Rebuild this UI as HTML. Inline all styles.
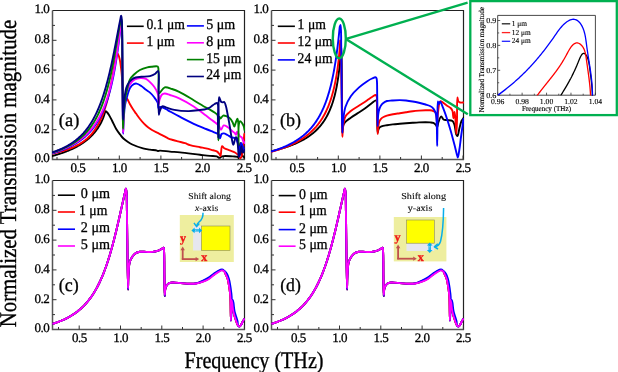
<!DOCTYPE html><html><head><meta charset="utf-8"><style>html,body{margin:0;padding:0;background:#fff;overflow:hidden;}svg{display:block;will-change:transform;}text{font-family:"Liberation Serif", serif;text-rendering:geometricPrecision;}</style></head><body>
<svg width="618" height="372" viewBox="0 0 618 372">
<rect width="618" height="372" fill="#fff"/>
<defs>
<clipPath id="clipa"><rect x="52.0" y="7.5" width="193.0" height="152.5"/></clipPath>
<clipPath id="clipb"><rect x="271.0" y="7.5" width="193.0" height="152.5"/></clipPath>
<clipPath id="clipc"><rect x="52.0" y="177.5" width="193.0" height="152.5"/></clipPath>
<clipPath id="clipd"><rect x="271.0" y="177.5" width="193.0" height="152.5"/></clipPath>
<clipPath id="clipi"><rect x="497.7" y="14" width="98" height="81.6"/></clipPath>
</defs>
<path d="M52.5 10.5 H244.5 V159.5" fill="none" stroke="#222" stroke-width="1.2"/>
<path d="M52.5 10.5 V159.5 H245.1" fill="none" stroke="#555" stroke-width="1.5"/>
<line x1="57.00" y1="159.50" x2="57.00" y2="157.00" stroke="#333" stroke-width="1"/>
<line x1="77.80" y1="159.50" x2="77.80" y2="155.50" stroke="#333" stroke-width="1"/>
<line x1="98.60" y1="159.50" x2="98.60" y2="157.00" stroke="#333" stroke-width="1"/>
<line x1="119.30" y1="159.50" x2="119.30" y2="155.50" stroke="#333" stroke-width="1"/>
<line x1="140.10" y1="159.50" x2="140.10" y2="157.00" stroke="#333" stroke-width="1"/>
<line x1="160.90" y1="159.50" x2="160.90" y2="155.50" stroke="#333" stroke-width="1"/>
<line x1="181.60" y1="159.50" x2="181.60" y2="157.00" stroke="#333" stroke-width="1"/>
<line x1="202.40" y1="159.50" x2="202.40" y2="155.50" stroke="#333" stroke-width="1"/>
<line x1="223.20" y1="159.50" x2="223.20" y2="157.00" stroke="#333" stroke-width="1"/>
<line x1="244.00" y1="159.50" x2="244.00" y2="155.50" stroke="#333" stroke-width="1"/>
<line x1="52.50" y1="144.60" x2="55.00" y2="144.60" stroke="#333" stroke-width="1"/>
<line x1="52.50" y1="129.70" x2="56.50" y2="129.70" stroke="#333" stroke-width="1"/>
<line x1="52.50" y1="114.80" x2="55.00" y2="114.80" stroke="#333" stroke-width="1"/>
<line x1="52.50" y1="99.90" x2="56.50" y2="99.90" stroke="#333" stroke-width="1"/>
<line x1="52.50" y1="85.00" x2="55.00" y2="85.00" stroke="#333" stroke-width="1"/>
<line x1="52.50" y1="70.10" x2="56.50" y2="70.10" stroke="#333" stroke-width="1"/>
<line x1="52.50" y1="55.20" x2="55.00" y2="55.20" stroke="#333" stroke-width="1"/>
<line x1="52.50" y1="40.30" x2="56.50" y2="40.30" stroke="#333" stroke-width="1"/>
<line x1="52.50" y1="25.40" x2="55.00" y2="25.40" stroke="#333" stroke-width="1"/>
<text x="34.55" y="162.30" font-size="13.00" text-anchor="start" fill="#000" stroke="#000" stroke-width="0.30" letter-spacing="-0.5">0.0</text>
<text x="34.55" y="132.50" font-size="13.00" text-anchor="start" fill="#000" stroke="#000" stroke-width="0.30" letter-spacing="-0.5">0.2</text>
<text x="34.55" y="102.70" font-size="13.00" text-anchor="start" fill="#000" stroke="#000" stroke-width="0.30" letter-spacing="-0.5">0.4</text>
<text x="34.55" y="72.90" font-size="13.00" text-anchor="start" fill="#000" stroke="#000" stroke-width="0.30" letter-spacing="-0.5">0.6</text>
<text x="34.55" y="43.10" font-size="13.00" text-anchor="start" fill="#000" stroke="#000" stroke-width="0.30" letter-spacing="-0.5">0.8</text>
<text x="34.55" y="13.30" font-size="13.00" text-anchor="start" fill="#000" stroke="#000" stroke-width="0.30" letter-spacing="-0.5">1.0</text>
<text x="70.50" y="172.00" font-size="13.00" text-anchor="start" fill="#000" stroke="#000" stroke-width="0.30" letter-spacing="-0.5">0.5</text>
<text x="112.00" y="172.00" font-size="13.00" text-anchor="start" fill="#000" stroke="#000" stroke-width="0.30" letter-spacing="-0.5">1.0</text>
<text x="153.60" y="172.00" font-size="13.00" text-anchor="start" fill="#000" stroke="#000" stroke-width="0.30" letter-spacing="-0.5">1.5</text>
<text x="195.10" y="172.00" font-size="13.00" text-anchor="start" fill="#000" stroke="#000" stroke-width="0.30" letter-spacing="-0.5">2.0</text>
<text x="236.70" y="172.00" font-size="13.00" text-anchor="start" fill="#000" stroke="#000" stroke-width="0.30" letter-spacing="-0.5">2.5</text>
<path d="M271.5 10.5 H463.5 V159.5" fill="none" stroke="#222" stroke-width="1.2"/>
<path d="M271.5 10.5 V159.5 H464.1" fill="none" stroke="#555" stroke-width="1.5"/>
<line x1="276.00" y1="159.50" x2="276.00" y2="157.00" stroke="#333" stroke-width="1"/>
<line x1="296.80" y1="159.50" x2="296.80" y2="155.50" stroke="#333" stroke-width="1"/>
<line x1="317.60" y1="159.50" x2="317.60" y2="157.00" stroke="#333" stroke-width="1"/>
<line x1="338.30" y1="159.50" x2="338.30" y2="155.50" stroke="#333" stroke-width="1"/>
<line x1="359.10" y1="159.50" x2="359.10" y2="157.00" stroke="#333" stroke-width="1"/>
<line x1="379.90" y1="159.50" x2="379.90" y2="155.50" stroke="#333" stroke-width="1"/>
<line x1="400.60" y1="159.50" x2="400.60" y2="157.00" stroke="#333" stroke-width="1"/>
<line x1="421.40" y1="159.50" x2="421.40" y2="155.50" stroke="#333" stroke-width="1"/>
<line x1="442.20" y1="159.50" x2="442.20" y2="157.00" stroke="#333" stroke-width="1"/>
<line x1="463.00" y1="159.50" x2="463.00" y2="155.50" stroke="#333" stroke-width="1"/>
<line x1="271.50" y1="144.60" x2="274.00" y2="144.60" stroke="#333" stroke-width="1"/>
<line x1="271.50" y1="129.70" x2="275.50" y2="129.70" stroke="#333" stroke-width="1"/>
<line x1="271.50" y1="114.80" x2="274.00" y2="114.80" stroke="#333" stroke-width="1"/>
<line x1="271.50" y1="99.90" x2="275.50" y2="99.90" stroke="#333" stroke-width="1"/>
<line x1="271.50" y1="85.00" x2="274.00" y2="85.00" stroke="#333" stroke-width="1"/>
<line x1="271.50" y1="70.10" x2="275.50" y2="70.10" stroke="#333" stroke-width="1"/>
<line x1="271.50" y1="55.20" x2="274.00" y2="55.20" stroke="#333" stroke-width="1"/>
<line x1="271.50" y1="40.30" x2="275.50" y2="40.30" stroke="#333" stroke-width="1"/>
<line x1="271.50" y1="25.40" x2="274.00" y2="25.40" stroke="#333" stroke-width="1"/>
<text x="253.55" y="162.30" font-size="13.00" text-anchor="start" fill="#000" stroke="#000" stroke-width="0.30" letter-spacing="-0.5">0.0</text>
<text x="253.55" y="132.50" font-size="13.00" text-anchor="start" fill="#000" stroke="#000" stroke-width="0.30" letter-spacing="-0.5">0.2</text>
<text x="253.55" y="102.70" font-size="13.00" text-anchor="start" fill="#000" stroke="#000" stroke-width="0.30" letter-spacing="-0.5">0.4</text>
<text x="253.55" y="72.90" font-size="13.00" text-anchor="start" fill="#000" stroke="#000" stroke-width="0.30" letter-spacing="-0.5">0.6</text>
<text x="253.55" y="43.10" font-size="13.00" text-anchor="start" fill="#000" stroke="#000" stroke-width="0.30" letter-spacing="-0.5">0.8</text>
<text x="253.55" y="13.30" font-size="13.00" text-anchor="start" fill="#000" stroke="#000" stroke-width="0.30" letter-spacing="-0.5">1.0</text>
<text x="289.50" y="172.00" font-size="13.00" text-anchor="start" fill="#000" stroke="#000" stroke-width="0.30" letter-spacing="-0.5">0.5</text>
<text x="331.00" y="172.00" font-size="13.00" text-anchor="start" fill="#000" stroke="#000" stroke-width="0.30" letter-spacing="-0.5">1.0</text>
<text x="372.60" y="172.00" font-size="13.00" text-anchor="start" fill="#000" stroke="#000" stroke-width="0.30" letter-spacing="-0.5">1.5</text>
<text x="414.10" y="172.00" font-size="13.00" text-anchor="start" fill="#000" stroke="#000" stroke-width="0.30" letter-spacing="-0.5">2.0</text>
<text x="455.70" y="172.00" font-size="13.00" text-anchor="start" fill="#000" stroke="#000" stroke-width="0.30" letter-spacing="-0.5">2.5</text>
<path d="M52.5 180.5 H244.5 V329.5" fill="none" stroke="#222" stroke-width="1.2"/>
<path d="M52.5 180.5 V329.5 H245.1" fill="none" stroke="#555" stroke-width="1.5"/>
<line x1="58.50" y1="329.50" x2="58.50" y2="327.00" stroke="#333" stroke-width="1"/>
<line x1="79.20" y1="329.50" x2="79.20" y2="325.50" stroke="#333" stroke-width="1"/>
<line x1="99.85" y1="329.50" x2="99.85" y2="327.00" stroke="#333" stroke-width="1"/>
<line x1="120.50" y1="329.50" x2="120.50" y2="325.50" stroke="#333" stroke-width="1"/>
<line x1="141.20" y1="329.50" x2="141.20" y2="327.00" stroke="#333" stroke-width="1"/>
<line x1="161.80" y1="329.50" x2="161.80" y2="325.50" stroke="#333" stroke-width="1"/>
<line x1="182.50" y1="329.50" x2="182.50" y2="327.00" stroke="#333" stroke-width="1"/>
<line x1="203.10" y1="329.50" x2="203.10" y2="325.50" stroke="#333" stroke-width="1"/>
<line x1="223.80" y1="329.50" x2="223.80" y2="327.00" stroke="#333" stroke-width="1"/>
<line x1="244.40" y1="329.50" x2="244.40" y2="325.50" stroke="#333" stroke-width="1"/>
<line x1="52.50" y1="314.60" x2="55.00" y2="314.60" stroke="#333" stroke-width="1"/>
<line x1="52.50" y1="299.70" x2="56.50" y2="299.70" stroke="#333" stroke-width="1"/>
<line x1="52.50" y1="284.80" x2="55.00" y2="284.80" stroke="#333" stroke-width="1"/>
<line x1="52.50" y1="269.90" x2="56.50" y2="269.90" stroke="#333" stroke-width="1"/>
<line x1="52.50" y1="255.00" x2="55.00" y2="255.00" stroke="#333" stroke-width="1"/>
<line x1="52.50" y1="240.10" x2="56.50" y2="240.10" stroke="#333" stroke-width="1"/>
<line x1="52.50" y1="225.20" x2="55.00" y2="225.20" stroke="#333" stroke-width="1"/>
<line x1="52.50" y1="210.30" x2="56.50" y2="210.30" stroke="#333" stroke-width="1"/>
<line x1="52.50" y1="195.40" x2="55.00" y2="195.40" stroke="#333" stroke-width="1"/>
<text x="34.55" y="332.30" font-size="13.00" text-anchor="start" fill="#000" stroke="#000" stroke-width="0.30" letter-spacing="-0.5">0.0</text>
<text x="34.55" y="302.50" font-size="13.00" text-anchor="start" fill="#000" stroke="#000" stroke-width="0.30" letter-spacing="-0.5">0.2</text>
<text x="34.55" y="272.70" font-size="13.00" text-anchor="start" fill="#000" stroke="#000" stroke-width="0.30" letter-spacing="-0.5">0.4</text>
<text x="34.55" y="242.90" font-size="13.00" text-anchor="start" fill="#000" stroke="#000" stroke-width="0.30" letter-spacing="-0.5">0.6</text>
<text x="34.55" y="213.10" font-size="13.00" text-anchor="start" fill="#000" stroke="#000" stroke-width="0.30" letter-spacing="-0.5">0.8</text>
<text x="34.55" y="183.30" font-size="13.00" text-anchor="start" fill="#000" stroke="#000" stroke-width="0.30" letter-spacing="-0.5">1.0</text>
<text x="71.90" y="342.00" font-size="13.00" text-anchor="start" fill="#000" stroke="#000" stroke-width="0.30" letter-spacing="-0.5">0.5</text>
<text x="113.20" y="342.00" font-size="13.00" text-anchor="start" fill="#000" stroke="#000" stroke-width="0.30" letter-spacing="-0.5">1.0</text>
<text x="154.50" y="342.00" font-size="13.00" text-anchor="start" fill="#000" stroke="#000" stroke-width="0.30" letter-spacing="-0.5">1.5</text>
<text x="195.80" y="342.00" font-size="13.00" text-anchor="start" fill="#000" stroke="#000" stroke-width="0.30" letter-spacing="-0.5">2.0</text>
<text x="237.10" y="342.00" font-size="13.00" text-anchor="start" fill="#000" stroke="#000" stroke-width="0.30" letter-spacing="-0.5">2.5</text>
<path d="M271.5 180.5 H463.5 V329.5" fill="none" stroke="#222" stroke-width="1.2"/>
<path d="M271.5 180.5 V329.5 H464.1" fill="none" stroke="#555" stroke-width="1.5"/>
<line x1="277.50" y1="329.50" x2="277.50" y2="327.00" stroke="#333" stroke-width="1"/>
<line x1="298.20" y1="329.50" x2="298.20" y2="325.50" stroke="#333" stroke-width="1"/>
<line x1="318.85" y1="329.50" x2="318.85" y2="327.00" stroke="#333" stroke-width="1"/>
<line x1="339.50" y1="329.50" x2="339.50" y2="325.50" stroke="#333" stroke-width="1"/>
<line x1="360.20" y1="329.50" x2="360.20" y2="327.00" stroke="#333" stroke-width="1"/>
<line x1="380.80" y1="329.50" x2="380.80" y2="325.50" stroke="#333" stroke-width="1"/>
<line x1="401.50" y1="329.50" x2="401.50" y2="327.00" stroke="#333" stroke-width="1"/>
<line x1="422.10" y1="329.50" x2="422.10" y2="325.50" stroke="#333" stroke-width="1"/>
<line x1="442.80" y1="329.50" x2="442.80" y2="327.00" stroke="#333" stroke-width="1"/>
<line x1="463.40" y1="329.50" x2="463.40" y2="325.50" stroke="#333" stroke-width="1"/>
<line x1="271.50" y1="314.60" x2="274.00" y2="314.60" stroke="#333" stroke-width="1"/>
<line x1="271.50" y1="299.70" x2="275.50" y2="299.70" stroke="#333" stroke-width="1"/>
<line x1="271.50" y1="284.80" x2="274.00" y2="284.80" stroke="#333" stroke-width="1"/>
<line x1="271.50" y1="269.90" x2="275.50" y2="269.90" stroke="#333" stroke-width="1"/>
<line x1="271.50" y1="255.00" x2="274.00" y2="255.00" stroke="#333" stroke-width="1"/>
<line x1="271.50" y1="240.10" x2="275.50" y2="240.10" stroke="#333" stroke-width="1"/>
<line x1="271.50" y1="225.20" x2="274.00" y2="225.20" stroke="#333" stroke-width="1"/>
<line x1="271.50" y1="210.30" x2="275.50" y2="210.30" stroke="#333" stroke-width="1"/>
<line x1="271.50" y1="195.40" x2="274.00" y2="195.40" stroke="#333" stroke-width="1"/>
<text x="253.55" y="332.30" font-size="13.00" text-anchor="start" fill="#000" stroke="#000" stroke-width="0.30" letter-spacing="-0.5">0.0</text>
<text x="253.55" y="302.50" font-size="13.00" text-anchor="start" fill="#000" stroke="#000" stroke-width="0.30" letter-spacing="-0.5">0.2</text>
<text x="253.55" y="272.70" font-size="13.00" text-anchor="start" fill="#000" stroke="#000" stroke-width="0.30" letter-spacing="-0.5">0.4</text>
<text x="253.55" y="242.90" font-size="13.00" text-anchor="start" fill="#000" stroke="#000" stroke-width="0.30" letter-spacing="-0.5">0.6</text>
<text x="253.55" y="213.10" font-size="13.00" text-anchor="start" fill="#000" stroke="#000" stroke-width="0.30" letter-spacing="-0.5">0.8</text>
<text x="253.55" y="183.30" font-size="13.00" text-anchor="start" fill="#000" stroke="#000" stroke-width="0.30" letter-spacing="-0.5">1.0</text>
<text x="290.90" y="342.00" font-size="13.00" text-anchor="start" fill="#000" stroke="#000" stroke-width="0.30" letter-spacing="-0.5">0.5</text>
<text x="332.20" y="342.00" font-size="13.00" text-anchor="start" fill="#000" stroke="#000" stroke-width="0.30" letter-spacing="-0.5">1.0</text>
<text x="373.50" y="342.00" font-size="13.00" text-anchor="start" fill="#000" stroke="#000" stroke-width="0.30" letter-spacing="-0.5">1.5</text>
<text x="414.80" y="342.00" font-size="13.00" text-anchor="start" fill="#000" stroke="#000" stroke-width="0.30" letter-spacing="-0.5">2.0</text>
<text x="456.10" y="342.00" font-size="13.00" text-anchor="start" fill="#000" stroke="#000" stroke-width="0.30" letter-spacing="-0.5">2.5</text>
<path d="M52.50 155.94 L53.00 155.81 L53.50 155.67 L54.00 155.53 L54.50 155.38 L55.00 155.24 L55.50 155.09 L56.00 154.95 L56.50 154.80 L57.00 154.65 L57.50 154.49 L58.00 154.34 L58.50 154.18 L59.00 154.02 L59.50 153.86 L60.00 153.70 L60.50 153.53 L61.00 153.37 L61.50 153.20 L62.00 153.03 L62.50 152.85 L63.00 152.68 L63.50 152.50 L64.00 152.32 L64.50 152.13 L65.00 151.95 L65.50 151.76 L66.00 151.57 L66.50 151.37 L67.00 151.18 L67.50 150.98 L68.00 150.77 L68.50 150.57 L69.00 150.36 L69.50 150.15 L70.00 149.93 L70.50 149.71 L71.00 149.49 L71.50 149.27 L72.00 149.04 L72.50 148.81 L73.00 148.57 L73.50 148.33 L74.00 148.09 L74.50 147.84 L75.00 147.59 L75.50 147.33 L76.00 147.07 L76.50 146.81 L77.00 146.54 L77.50 146.26 L78.00 145.98 L78.50 145.70 L79.00 145.41 L79.50 145.12 L80.00 144.82 L80.50 144.51 L81.00 144.20 L81.50 143.88 L82.00 143.56 L82.50 143.23 L83.00 142.89 L83.50 142.54 L84.00 142.19 L84.50 141.83 L85.00 141.47 L85.50 141.09 L86.00 140.71 L86.50 140.32 L87.00 139.92 L87.50 139.51 L88.00 139.09 L88.50 138.67 L89.00 138.23 L89.50 137.78 L90.00 137.32 L90.50 136.84 L91.00 136.36 L91.50 135.86 L92.00 135.35 L92.50 134.82 L93.00 134.28 L93.50 133.73 L94.00 133.16 L94.50 132.57 L95.00 131.96 L95.50 131.33 L96.00 130.69 L96.50 130.02 L97.00 129.32 L97.50 128.61 L98.00 127.86 L98.50 127.09 L99.00 126.29 L99.50 125.45 L100.00 124.58 L100.50 123.67 L101.00 122.72 L101.50 121.71 L102.00 120.65 L102.50 119.53 L103.00 118.33 L103.50 117.05 L104.00 115.64 L104.50 114.08 L105.00 112.18 L105.10 111.60 C105.18 111.46 105.32 111.31 105.50 111.30 C105.84 111.28 106.51 111.75 107.00 112.20 C107.68 112.82 108.30 113.79 109.00 114.90 C110.00 116.49 111.08 118.82 112.20 121.00 C113.47 123.48 114.78 126.63 116.20 129.00 C117.43 131.06 118.82 132.83 120.10 134.50 C121.22 135.96 122.13 137.28 123.40 138.50 C124.74 139.79 126.46 140.97 128.00 142.00 C129.43 142.95 130.50 143.66 132.30 144.50 C135.03 145.78 139.78 147.54 143.00 148.40 C145.55 149.08 147.66 149.23 150.00 149.60 C152.33 149.97 155.83 150.24 157.00 150.60 C157.41 150.73 157.46 150.95 157.80 151.00 C158.34 151.08 159.00 150.64 160.00 150.60 C162.12 150.51 166.67 151.30 170.00 151.60 C173.33 151.90 176.10 152.01 180.00 152.40 C185.53 152.95 194.48 154.16 200.00 154.80 C203.90 155.25 206.98 155.65 210.00 155.90 C212.48 156.11 215.12 155.77 216.80 156.30 C217.93 156.66 218.52 157.89 219.40 157.90 C220.29 157.91 220.84 156.64 222.10 156.30 C224.45 155.67 230.02 156.27 232.90 156.40 C234.82 156.49 236.72 156.27 237.70 156.80 C238.30 157.12 238.49 158.29 238.80 158.20 C239.72 157.93 239.71 143.01 240.20 143.00 C240.56 142.99 240.84 148.66 241.30 151.00 C241.67 152.87 241.87 154.89 242.60 156.00 C243.10 156.76 243.87 157.00 244.50 157.50" fill="none" stroke="#000" stroke-width="1.90" stroke-linejoin="round" stroke-linecap="round" clip-path="url(#clipa)"/>
<path d="M52.50 153.59 L53.00 153.49 L53.50 153.38 L54.00 153.27 L54.50 153.16 L55.00 153.05 L55.50 152.94 L56.00 152.82 L56.50 152.70 L57.00 152.58 L57.50 152.46 L58.00 152.34 L58.50 152.21 L59.00 152.09 L59.50 151.96 L60.00 151.82 L60.50 151.69 L61.00 151.55 L61.50 151.41 L62.00 151.27 L62.50 151.13 L63.00 150.98 L63.50 150.83 L64.00 150.68 L64.50 150.52 L65.00 150.36 L65.50 150.20 L66.00 150.04 L66.50 149.87 L67.00 149.70 L67.50 149.52 L68.00 149.35 L68.50 149.17 L69.00 148.98 L69.50 148.79 L70.00 148.60 L70.50 148.40 L71.00 148.20 L71.50 148.00 L72.00 147.79 L72.50 147.58 L73.00 147.36 L73.50 147.13 L74.00 146.91 L74.50 146.67 L75.00 146.44 L75.50 146.19 L76.00 145.94 L76.50 145.69 L77.00 145.43 L77.50 145.16 L78.00 144.89 L78.50 144.61 L79.00 144.33 L79.50 144.03 L80.00 143.73 L80.50 143.42 L81.00 143.11 L81.50 142.79 L82.00 142.46 L82.50 142.12 L83.00 141.77 L83.50 141.41 L84.00 141.04 L84.50 140.66 L85.00 140.28 L85.50 139.88 L86.00 139.47 L86.50 139.05 L87.00 138.62 L87.50 138.17 L88.00 137.71 L88.50 137.24 L89.00 136.76 L89.50 136.26 L90.00 135.75 L90.50 135.21 L91.00 134.67 L91.50 134.10 L92.00 133.52 L92.50 132.92 L93.00 132.30 L93.50 131.66 L94.00 131.00 L94.50 130.32 L95.00 129.61 L95.50 128.88 L96.00 128.12 L96.50 127.34 L97.00 126.53 L97.50 125.69 L98.00 124.82 L98.50 123.92 L99.00 122.98 L99.50 122.01 L100.00 121.00 L100.50 119.95 L101.00 118.86 L101.50 117.73 L102.00 116.55 L102.50 115.32 L103.00 114.05 L103.50 112.72 L104.00 111.34 L104.50 109.90 L105.00 108.39 L105.50 106.83 L106.00 105.19 L106.50 103.49 L107.00 101.71 L107.50 99.85 L108.00 97.91 L108.50 95.89 L109.00 93.79 L109.50 91.59 L110.00 89.30 L110.50 86.92 L111.00 84.44 L111.50 81.86 L112.00 79.20 L112.50 76.44 L113.00 73.60 L113.50 70.69 L114.00 67.73 L114.50 64.74 L115.00 61.76 L115.50 58.85 L116.00 56.11 L116.50 53.74 L117.00 53.28 L117.20 54.00 C117.30 54.02 117.44 53.39 117.60 53.40 C117.95 53.43 118.59 55.27 119.00 56.50 C119.54 58.15 119.92 60.26 120.30 62.50 C120.78 65.30 121.14 68.52 121.50 72.00 C121.93 76.21 122.21 81.80 122.60 86.00 C122.92 89.45 122.80 93.72 123.60 95.40 C123.97 96.17 124.48 96.32 125.00 96.80 C125.60 97.35 126.35 97.68 127.00 98.50 C128.03 99.80 128.97 102.45 130.00 104.30 C130.97 106.04 131.97 107.73 133.00 109.30 C133.97 110.78 134.92 112.01 136.00 113.50 C137.23 115.21 138.63 117.26 140.00 119.00 C141.30 120.65 142.62 122.28 144.00 123.70 C145.29 125.03 146.63 126.23 148.00 127.30 C149.30 128.31 150.65 129.17 152.00 130.00 C153.32 130.80 154.75 131.57 156.00 132.20 C157.06 132.74 157.88 133.05 159.00 133.60 C160.46 134.32 162.43 135.38 164.00 136.20 C165.41 136.94 166.57 137.68 168.00 138.30 C169.55 138.97 171.33 139.48 173.00 140.00 C174.66 140.51 176.19 140.91 178.00 141.40 C180.13 141.97 182.88 142.53 185.00 143.20 C186.82 143.78 188.02 144.52 190.00 145.10 C192.74 145.90 197.09 146.60 200.00 147.20 C202.25 147.66 204.06 147.95 206.00 148.40 C207.85 148.83 209.60 149.30 211.40 149.80 C213.20 150.30 215.41 150.55 216.80 151.40 C217.94 152.09 218.76 153.23 219.40 154.10 C219.90 154.78 220.17 156.16 220.50 156.10 C221.20 155.98 221.05 146.45 222.10 146.10 C222.68 145.91 223.33 147.57 224.30 148.20 C225.64 149.07 227.91 149.68 229.70 150.40 C231.47 151.11 233.50 151.62 235.00 152.50 C236.30 153.26 237.35 154.22 238.30 155.20 C239.20 156.13 239.94 158.31 240.60 158.20 C241.45 158.06 242.06 154.85 242.60 152.30 C243.53 147.92 243.73 140.10 244.30 134.00" fill="none" stroke="#f00" stroke-width="1.90" stroke-linejoin="round" stroke-linecap="round" clip-path="url(#clipa)"/>
<path d="M52.50 153.36 L53.00 153.21 L53.50 153.06 L54.00 152.91 L54.50 152.75 L55.00 152.60 L55.50 152.44 L56.00 152.28 L56.50 152.12 L57.00 151.95 L57.50 151.78 L58.00 151.61 L58.50 151.44 L59.00 151.26 L59.50 151.09 L60.00 150.91 L60.50 150.72 L61.00 150.54 L61.50 150.35 L62.00 150.16 L62.50 149.96 L63.00 149.77 L63.50 149.57 L64.00 149.36 L64.50 149.16 L65.00 148.95 L65.50 148.74 L66.00 148.52 L66.50 148.30 L67.00 148.08 L67.50 147.85 L68.00 147.62 L68.50 147.39 L69.00 147.15 L69.50 146.91 L70.00 146.66 L70.50 146.41 L71.00 146.16 L71.50 145.90 L72.00 145.64 L72.50 145.37 L73.00 145.09 L73.50 144.82 L74.00 144.54 L74.50 144.25 L75.00 143.96 L75.50 143.66 L76.00 143.35 L76.50 143.05 L77.00 142.73 L77.50 142.41 L78.00 142.08 L78.50 141.75 L79.00 141.41 L79.50 141.06 L80.00 140.71 L80.50 140.35 L81.00 139.98 L81.50 139.61 L82.00 139.23 L82.50 138.84 L83.00 138.44 L83.50 138.03 L84.00 137.61 L84.50 137.19 L85.00 136.76 L85.50 136.31 L86.00 135.86 L86.50 135.40 L87.00 134.92 L87.50 134.44 L88.00 133.94 L88.50 133.43 L89.00 132.92 L89.50 132.38 L90.00 131.84 L90.50 131.28 L91.00 130.71 L91.50 130.13 L92.00 129.53 L92.50 128.91 L93.00 128.28 L93.50 127.63 L94.00 126.97 L94.50 126.29 L95.00 125.59 L95.50 124.87 L96.00 124.13 L96.50 123.37 L97.00 122.59 L97.50 121.79 L98.00 120.97 L98.50 120.12 L99.00 119.24 L99.50 118.34 L100.00 117.41 L100.50 116.46 L101.00 115.47 L101.50 114.45 L102.00 113.40 L102.50 112.32 L103.00 111.20 L103.50 110.05 L104.00 108.85 L104.50 107.62 L105.00 106.34 L105.50 105.02 L106.00 103.65 L106.50 102.23 L107.00 100.76 L107.50 99.23 L108.00 97.65 L108.50 96.01 L109.00 94.30 L109.50 92.53 L110.00 90.69 L110.50 88.77 L111.00 86.78 L111.50 84.70 L112.00 82.54 L112.50 80.29 L113.00 77.94 L113.50 75.49 L114.00 72.93 L114.50 70.26 L115.00 67.47 L115.50 64.56 L116.00 61.53 L116.50 58.35 L117.00 55.04 L117.50 51.59 L118.00 48.00 L118.50 44.26 L119.00 40.39 L119.50 36.40 L120.00 32.31 L120.50 28.19 L121.00 24.19 L121.30 22.00 C121.38 21.76 121.51 21.48 121.60 21.50 C121.93 21.58 121.89 25.99 122.00 30.00 C122.28 39.73 122.32 63.04 122.50 80.00 C122.69 97.58 122.79 133.70 123.10 133.70 C123.24 133.70 123.33 126.26 123.60 122.00 C123.92 116.86 124.19 109.89 125.00 105.00 C125.63 101.20 126.59 98.03 127.50 95.00 C128.28 92.41 128.81 89.80 130.00 87.90 C131.01 86.30 132.52 84.77 133.80 84.10 C134.73 83.62 135.57 83.45 136.60 83.60 C138.00 83.81 139.78 85.01 141.30 86.00 C142.92 87.05 144.48 88.65 146.00 89.80 C147.37 90.83 148.73 91.48 150.00 92.60 C151.41 93.84 152.75 95.38 154.00 97.00 C155.33 98.73 156.96 100.71 157.70 102.70 C158.38 104.53 157.88 108.18 158.50 108.40 C158.87 108.53 159.34 107.18 160.00 107.00 C160.86 106.77 162.21 107.35 163.40 107.80 C164.85 108.35 166.13 109.28 168.00 110.30 C170.92 111.89 175.21 114.30 179.20 116.40 C183.71 118.78 189.03 121.62 193.70 123.80 C197.93 125.77 202.73 127.64 206.00 129.00 C208.16 129.90 209.60 130.48 211.40 131.20 C213.20 131.92 215.44 132.65 216.80 133.30 C217.68 133.72 218.38 133.84 218.90 134.50 C219.56 135.34 219.57 138.28 220.00 138.30 C220.46 138.32 220.78 134.76 221.60 134.00 C222.16 133.48 222.91 133.35 223.70 133.40 C224.79 133.47 226.22 134.36 227.50 135.00 C228.91 135.70 230.40 136.99 231.80 137.50 C232.99 137.93 234.44 137.54 235.30 138.10 C236.08 138.61 236.43 139.49 236.90 140.50 C237.57 141.94 238.11 143.92 238.50 146.10 C239.03 149.03 238.99 156.59 239.30 156.60 C239.54 156.61 239.78 152.40 240.10 150.20 C240.44 147.84 240.71 142.97 241.30 142.90 C241.75 142.85 242.44 145.63 243.00 146.90 C243.51 148.06 244.00 149.10 244.50 150.20" fill="none" stroke="#00f" stroke-width="1.90" stroke-linejoin="round" stroke-linecap="round" clip-path="url(#clipa)"/>
<path d="M52.50 152.79 L53.00 152.64 L53.50 152.48 L54.00 152.33 L54.50 152.17 L55.00 152.01 L55.50 151.84 L56.00 151.68 L56.50 151.51 L57.00 151.34 L57.50 151.17 L58.00 151.00 L58.50 150.82 L59.00 150.64 L59.50 150.46 L60.00 150.27 L60.50 150.09 L61.00 149.90 L61.50 149.70 L62.00 149.51 L62.50 149.31 L63.00 149.11 L63.50 148.90 L64.00 148.69 L64.50 148.48 L65.00 148.27 L65.50 148.05 L66.00 147.83 L66.50 147.60 L67.00 147.37 L67.50 147.14 L68.00 146.90 L68.50 146.66 L69.00 146.42 L69.50 146.17 L70.00 145.92 L70.50 145.66 L71.00 145.40 L71.50 145.14 L72.00 144.87 L72.50 144.59 L73.00 144.31 L73.50 144.03 L74.00 143.74 L74.50 143.45 L75.00 143.15 L75.50 142.84 L76.00 142.53 L76.50 142.21 L77.00 141.89 L77.50 141.56 L78.00 141.23 L78.50 140.88 L79.00 140.54 L79.50 140.18 L80.00 139.82 L80.50 139.45 L81.00 139.07 L81.50 138.69 L82.00 138.30 L82.50 137.89 L83.00 137.49 L83.50 137.07 L84.00 136.64 L84.50 136.21 L85.00 135.76 L85.50 135.31 L86.00 134.84 L86.50 134.37 L87.00 133.88 L87.50 133.39 L88.00 132.88 L88.50 132.36 L89.00 131.82 L89.50 131.28 L90.00 130.72 L90.50 130.15 L91.00 129.57 L91.50 128.97 L92.00 128.35 L92.50 127.72 L93.00 127.07 L93.50 126.41 L94.00 125.73 L94.50 125.03 L95.00 124.31 L95.50 123.58 L96.00 122.82 L96.50 122.04 L97.00 121.25 L97.50 120.42 L98.00 119.58 L98.50 118.71 L99.00 117.81 L99.50 116.89 L100.00 115.94 L100.50 114.96 L101.00 113.95 L101.50 112.91 L102.00 111.84 L102.50 110.73 L103.00 109.59 L103.50 108.40 L104.00 107.18 L104.50 105.92 L105.00 104.62 L105.50 103.26 L106.00 101.87 L106.50 100.42 L107.00 98.92 L107.50 97.36 L108.00 95.75 L108.50 94.08 L109.00 92.34 L109.50 90.54 L110.00 88.66 L110.50 86.71 L111.00 84.69 L111.50 82.58 L112.00 80.39 L112.50 78.10 L113.00 75.72 L113.50 73.24 L114.00 70.66 L114.50 67.97 L115.00 65.16 L115.50 62.24 L116.00 59.19 L116.50 56.01 L117.00 52.71 L117.50 49.28 L118.00 45.72 L118.50 42.03 L119.00 38.24 L119.50 34.37 L120.00 30.47 L120.50 26.67 L121.00 24.87 L121.10 25.50 C121.17 25.52 121.31 25.16 121.40 25.20 C122.02 25.45 121.82 36.75 122.00 45.00 C122.30 58.75 122.50 84.02 122.70 100.00 C122.85 112.34 122.88 132.80 123.10 132.80 C123.23 132.80 123.37 124.74 123.60 120.00 C123.89 114.07 124.14 105.03 124.80 100.00 C125.20 96.91 125.51 95.11 126.30 92.60 C127.18 89.82 128.42 86.40 130.00 84.10 C131.35 82.14 132.99 80.41 134.80 79.40 C136.48 78.46 138.53 78.08 140.40 78.00 C142.26 77.92 144.33 78.14 146.00 78.90 C147.70 79.67 149.14 81.30 150.50 82.60 C151.79 83.84 152.92 85.01 154.00 86.50 C155.21 88.19 156.58 90.54 157.30 92.30 C157.85 93.63 158.07 94.52 158.30 96.00 C158.64 98.14 158.43 103.98 158.70 104.00 C158.90 104.01 159.06 101.40 159.50 100.00 C160.02 98.33 160.72 95.76 161.80 94.70 C162.60 93.92 163.58 93.57 164.70 93.50 C166.19 93.41 168.00 94.36 170.00 95.00 C172.66 95.85 175.86 96.77 179.20 98.30 C183.56 100.30 189.15 103.55 193.70 106.50 C198.06 109.33 202.74 113.16 206.00 115.60 C208.17 117.23 209.60 118.33 211.40 119.70 C213.20 121.07 215.43 122.60 216.80 123.80 C217.73 124.61 218.34 125.12 219.00 126.00 C219.77 127.03 220.26 129.68 221.00 129.70 C221.81 129.73 222.53 125.77 223.70 125.40 C224.75 125.07 226.26 126.22 227.50 127.00 C228.97 127.92 230.51 129.76 231.80 130.80 C232.79 131.60 233.75 132.08 234.50 132.80 C235.15 133.43 235.69 134.88 236.10 134.80 C236.56 134.71 236.61 131.67 237.00 131.60 C237.28 131.55 237.62 132.42 238.00 133.00 C238.59 133.90 239.34 135.79 240.10 136.50 C240.61 136.97 241.26 136.82 241.70 137.30 C242.31 137.96 242.50 139.53 243.00 140.50 C243.45 141.38 244.00 142.10 244.50 142.90" fill="none" stroke="#f0f" stroke-width="1.90" stroke-linejoin="round" stroke-linecap="round" clip-path="url(#clipa)"/>
<path d="M52.50 152.52 L53.00 152.37 L53.50 152.21 L54.00 152.04 L54.50 151.88 L55.00 151.71 L55.50 151.54 L56.00 151.37 L56.50 151.19 L57.00 151.01 L57.50 150.83 L58.00 150.65 L58.50 150.46 L59.00 150.27 L59.50 150.08 L60.00 149.88 L60.50 149.68 L61.00 149.48 L61.50 149.28 L62.00 149.07 L62.50 148.85 L63.00 148.64 L63.50 148.42 L64.00 148.19 L64.50 147.97 L65.00 147.74 L65.50 147.50 L66.00 147.26 L66.50 147.02 L67.00 146.77 L67.50 146.52 L68.00 146.26 L68.50 146.00 L69.00 145.73 L69.50 145.46 L70.00 145.18 L70.50 144.90 L71.00 144.61 L71.50 144.32 L72.00 144.02 L72.50 143.72 L73.00 143.41 L73.50 143.09 L74.00 142.77 L74.50 142.44 L75.00 142.11 L75.50 141.77 L76.00 141.42 L76.50 141.06 L77.00 140.70 L77.50 140.33 L78.00 139.95 L78.50 139.57 L79.00 139.17 L79.50 138.77 L80.00 138.36 L80.50 137.94 L81.00 137.51 L81.50 137.07 L82.00 136.62 L82.50 136.16 L83.00 135.69 L83.50 135.21 L84.00 134.72 L84.50 134.22 L85.00 133.71 L85.50 133.18 L86.00 132.64 L86.50 132.09 L87.00 131.52 L87.50 130.95 L88.00 130.35 L88.50 129.74 L89.00 129.12 L89.50 128.48 L90.00 127.83 L90.50 127.15 L91.00 126.47 L91.50 125.76 L92.00 125.03 L92.50 124.29 L93.00 123.52 L93.50 122.73 L94.00 121.93 L94.50 121.10 L95.00 120.24 L95.50 119.37 L96.00 118.46 L96.50 117.54 L97.00 116.58 L97.50 115.60 L98.00 114.59 L98.50 113.55 L99.00 112.48 L99.50 111.37 L100.00 110.24 L100.50 109.07 L101.00 107.86 L101.50 106.61 L102.00 105.33 L102.50 104.01 L103.00 102.64 L103.50 101.23 L104.00 99.78 L104.50 98.28 L105.00 96.73 L105.50 95.13 L106.00 93.48 L106.50 91.78 L107.00 90.02 L107.50 88.21 L108.00 86.33 L108.50 84.40 L109.00 82.40 L109.50 80.33 L110.00 78.20 L110.50 76.01 L111.00 73.74 L111.50 71.41 L112.00 69.00 L112.50 66.52 L113.00 63.98 L113.50 61.36 L114.00 58.67 L114.50 55.92 L115.00 53.11 L115.50 50.23 L116.00 47.31 L116.50 44.35 L117.00 41.35 L117.50 38.35 L118.00 35.34 L118.50 32.37 L119.00 29.47 L119.50 26.68 L120.00 24.08 L120.50 21.76 L121.00 19.80 C121.14 19.61 121.36 19.43 121.50 19.50 C121.97 19.74 121.87 22.87 122.00 26.00 C122.35 34.14 122.26 55.68 122.40 70.00 C122.53 83.65 122.69 99.15 122.80 110.00 C122.88 117.44 122.85 128.80 123.00 128.80 C123.12 128.80 123.24 122.05 123.50 118.00 C123.84 112.76 124.28 105.11 125.00 100.00 C125.54 96.16 126.19 93.37 127.00 90.00 C127.84 86.50 128.59 82.12 130.00 79.40 C131.04 77.39 132.28 76.18 133.80 74.70 C135.51 73.03 137.67 71.23 139.90 70.00 C142.16 68.76 145.08 67.84 147.30 67.30 C149.02 66.88 150.35 66.83 152.00 66.70 C153.81 66.55 156.79 65.91 157.70 66.50 C158.18 66.81 158.14 67.24 158.30 68.00 C158.73 70.07 158.49 75.92 158.60 80.00 C158.72 84.25 158.09 92.46 159.00 93.00 C159.27 93.16 159.58 92.81 160.00 92.50 C161.04 91.72 162.75 88.01 164.70 87.40 C166.72 86.76 169.60 88.28 172.00 89.00 C174.44 89.74 176.44 90.48 179.20 91.80 C183.26 93.75 189.08 97.45 193.70 100.20 C197.98 102.75 202.93 105.98 206.00 107.70 C207.78 108.70 208.88 109.10 210.30 109.90 C211.75 110.73 213.33 111.68 214.60 112.60 C215.69 113.39 216.86 113.73 217.50 115.00 C218.54 117.08 217.86 121.31 218.00 125.00 C218.17 129.58 218.27 140.40 218.40 140.40 C218.53 140.40 218.56 129.30 218.80 125.00 C218.98 121.90 218.95 117.14 219.50 117.00 C219.76 116.93 220.06 118.46 220.50 118.50 C221.16 118.55 222.13 115.93 223.20 115.60 C224.22 115.29 225.59 115.95 226.70 116.40 C227.86 116.87 229.04 117.48 230.00 118.40 C231.08 119.44 231.95 121.11 232.70 122.50 C233.40 123.81 233.88 126.52 234.40 126.50 C234.91 126.48 235.29 123.80 235.80 122.50 C236.29 121.23 236.99 118.77 237.40 118.80 C237.76 118.83 237.99 120.31 238.20 121.80 C238.76 125.87 238.40 145.00 238.50 145.00 C238.60 145.00 238.11 129.05 238.80 125.00 C239.11 123.16 239.46 121.25 240.10 121.10 C240.63 120.98 241.52 122.29 242.10 123.10 C242.78 124.04 243.40 125.33 243.80 126.50 C244.19 127.63 244.27 128.83 244.50 130.00" fill="none" stroke="#008000" stroke-width="1.90" stroke-linejoin="round" stroke-linecap="round" clip-path="url(#clipa)"/>
<path d="M52.50 152.25 L53.00 152.08 L53.50 151.91 L54.00 151.74 L54.50 151.57 L55.00 151.39 L55.50 151.21 L56.00 151.02 L56.50 150.84 L57.00 150.65 L57.50 150.45 L58.00 150.26 L58.50 150.06 L59.00 149.85 L59.50 149.64 L60.00 149.43 L60.50 149.22 L61.00 149.00 L61.50 148.78 L62.00 148.55 L62.50 148.32 L63.00 148.08 L63.50 147.84 L64.00 147.60 L64.50 147.35 L65.00 147.10 L65.50 146.84 L66.00 146.58 L66.50 146.31 L67.00 146.04 L67.50 145.76 L68.00 145.48 L68.50 145.19 L69.00 144.89 L69.50 144.59 L70.00 144.28 L70.50 143.97 L71.00 143.65 L71.50 143.33 L72.00 142.99 L72.50 142.66 L73.00 142.31 L73.50 141.96 L74.00 141.60 L74.50 141.23 L75.00 140.85 L75.50 140.47 L76.00 140.07 L76.50 139.67 L77.00 139.26 L77.50 138.85 L78.00 138.42 L78.50 137.98 L79.00 137.53 L79.50 137.08 L80.00 136.61 L80.50 136.13 L81.00 135.64 L81.50 135.14 L82.00 134.63 L82.50 134.11 L83.00 133.57 L83.50 133.03 L84.00 132.46 L84.50 131.89 L85.00 131.30 L85.50 130.70 L86.00 130.08 L86.50 129.45 L87.00 128.80 L87.50 128.14 L88.00 127.46 L88.50 126.76 L89.00 126.05 L89.50 125.32 L90.00 124.57 L90.50 123.80 L91.00 123.01 L91.50 122.20 L92.00 121.37 L92.50 120.51 L93.00 119.64 L93.50 118.74 L94.00 117.82 L94.50 116.87 L95.00 115.90 L95.50 114.90 L96.00 113.88 L96.50 112.83 L97.00 111.75 L97.50 110.64 L98.00 109.50 L98.50 108.33 L99.00 107.13 L99.50 105.89 L100.00 104.63 L100.50 103.32 L101.00 101.98 L101.50 100.61 L102.00 99.20 L102.50 97.74 L103.00 96.25 L103.50 94.72 L104.00 93.15 L104.50 91.53 L105.00 89.87 L105.50 88.17 L106.00 86.42 L106.50 84.63 L107.00 82.79 L107.50 80.90 L108.00 78.97 L108.50 76.99 L109.00 74.96 L109.50 72.88 L110.00 70.75 L110.50 68.57 L111.00 66.35 L111.50 64.08 L112.00 61.76 L112.50 59.40 L113.00 57.00 L113.50 54.55 L114.00 52.07 L114.50 49.54 L115.00 46.99 L115.50 44.41 L116.00 41.80 L116.50 39.17 L117.00 36.53 L117.50 33.89 L118.00 31.24 L118.50 28.61 L119.00 25.99 L119.50 23.40 L120.00 20.85 L120.50 18.36 L120.90 16.20 C121.01 15.99 121.18 15.76 121.30 15.80 C121.69 15.94 121.75 19.39 121.90 22.00 C122.16 26.43 122.20 32.82 122.30 40.00 C122.45 50.71 122.40 68.23 122.50 80.00 C122.58 89.31 122.68 97.77 122.80 105.00 C122.89 110.55 122.95 119.70 123.10 119.70 C123.21 119.70 123.32 114.95 123.50 112.00 C123.75 108.02 123.97 102.27 124.50 98.00 C124.95 94.35 125.37 90.73 126.30 87.90 C127.03 85.67 128.03 83.70 129.10 82.20 C129.95 81.02 130.82 80.18 131.90 79.40 C133.01 78.60 134.27 77.93 135.70 77.50 C137.35 77.00 139.23 77.01 141.30 76.80 C143.88 76.54 147.51 76.74 150.00 76.10 C152.04 75.57 153.86 74.66 155.30 73.70 C156.49 72.91 157.52 70.71 158.20 71.00 C159.70 71.63 158.50 83.25 158.60 90.00 C158.71 97.72 158.27 114.74 158.80 114.80 C158.98 114.82 159.11 113.07 159.50 112.00 C160.08 110.41 160.95 106.89 162.30 106.30 C163.44 105.81 164.95 107.11 166.60 107.60 C168.81 108.26 171.37 109.33 174.40 109.90 C178.46 110.66 184.39 111.14 188.90 111.10 C192.85 111.07 196.87 110.39 200.00 110.00 C202.31 109.71 204.20 109.62 206.00 109.10 C207.59 108.64 208.91 108.01 210.30 107.20 C211.78 106.33 213.28 104.69 214.60 104.00 C215.56 103.50 216.64 102.64 217.30 103.10 C218.91 104.22 217.73 114.28 217.90 120.00 C218.07 125.90 218.17 138.00 218.30 138.00 C218.43 138.00 218.57 126.35 218.70 120.00 C218.84 112.87 218.08 97.51 219.10 97.30 C219.57 97.20 220.28 101.03 221.10 101.80 C221.58 102.25 222.16 102.37 222.70 102.40 C223.23 102.43 223.85 101.77 224.30 102.00 C225.04 102.38 225.42 104.50 225.90 106.10 C226.53 108.22 226.98 111.09 227.50 113.70 C228.05 116.47 228.60 119.42 229.10 122.30 C229.60 125.19 230.01 128.04 230.50 131.00 C231.01 134.10 231.54 137.95 232.10 140.50 C232.49 142.26 232.88 144.89 233.30 144.90 C233.68 144.91 234.11 142.53 234.50 141.30 C234.91 140.00 235.12 137.51 235.70 137.30 C236.04 137.18 236.57 137.56 236.90 138.10 C237.79 139.56 237.75 145.25 238.10 148.50 C238.41 151.37 238.36 156.50 238.90 156.60 C239.21 156.66 239.76 155.27 240.10 154.20 C240.69 152.33 240.78 146.13 241.30 146.10 C241.77 146.07 242.32 152.51 243.00 152.60 C243.45 152.66 244.00 150.87 244.50 150.00" fill="none" stroke="#000080" stroke-width="1.90" stroke-linejoin="round" stroke-linecap="round" clip-path="url(#clipa)"/>
<path d="M271.50 151.18 L272.00 151.07 L272.50 150.95 L273.00 150.83 L273.50 150.71 L274.00 150.58 L274.50 150.46 L275.00 150.33 L275.50 150.20 L276.00 150.08 L276.50 149.95 L277.00 149.81 L277.50 149.68 L278.00 149.55 L278.50 149.41 L279.00 149.27 L279.50 149.13 L280.00 148.99 L280.50 148.85 L281.00 148.70 L281.50 148.56 L282.00 148.41 L282.50 148.26 L283.00 148.11 L283.50 147.95 L284.00 147.80 L284.50 147.64 L285.00 147.48 L285.50 147.32 L286.00 147.16 L286.50 146.99 L287.00 146.82 L287.50 146.65 L288.00 146.48 L288.50 146.30 L289.00 146.13 L289.50 145.95 L290.00 145.76 L290.50 145.58 L291.00 145.39 L291.50 145.20 L292.00 145.01 L292.50 144.81 L293.00 144.61 L293.50 144.41 L294.00 144.20 L294.50 144.00 L295.00 143.79 L295.50 143.57 L296.00 143.35 L296.50 143.13 L297.00 142.91 L297.50 142.68 L298.00 142.45 L298.50 142.21 L299.00 141.97 L299.50 141.73 L300.00 141.48 L300.50 141.23 L301.00 140.98 L301.50 140.72 L302.00 140.45 L302.50 140.18 L303.00 139.91 L303.50 139.63 L304.00 139.35 L304.50 139.06 L305.00 138.76 L305.50 138.46 L306.00 138.16 L306.50 137.84 L307.00 137.53 L307.50 137.20 L308.00 136.87 L308.50 136.53 L309.00 136.19 L309.50 135.84 L310.00 135.48 L310.50 135.11 L311.00 134.74 L311.50 134.36 L312.00 133.97 L312.50 133.57 L313.00 133.16 L313.50 132.74 L314.00 132.32 L314.50 131.88 L315.00 131.43 L315.50 130.97 L316.00 130.50 L316.50 130.02 L317.00 129.53 L317.50 129.02 L318.00 128.50 L318.50 127.97 L319.00 127.42 L319.50 126.86 L320.00 126.28 L320.50 125.68 L321.00 125.07 L321.50 124.44 L322.00 123.79 L322.50 123.11 L323.00 122.42 L323.50 121.71 L324.00 120.97 L324.50 120.21 L325.00 119.42 L325.50 118.60 L326.00 117.76 L326.50 116.88 L327.00 115.97 L327.50 115.03 L328.00 114.05 L328.50 113.03 L329.00 111.96 L329.50 110.85 L330.00 109.69 L330.50 108.48 L331.00 107.21 L331.50 105.88 L332.00 104.48 L332.50 103.00 L333.00 101.45 L333.50 99.80 L334.00 98.06 L334.50 96.21 L335.00 94.24 L335.50 92.14 L336.00 89.88 L336.50 87.44 L337.00 84.80 L337.50 81.92 L338.00 78.76 L338.50 75.24 L339.00 71.30 L339.50 66.77 L340.00 61.41 L340.50 54.58 L340.80 48.00 C340.89 46.97 341.01 45.50 341.10 45.50 C341.31 45.51 341.47 52.73 341.60 58.00 C341.82 67.07 341.78 82.58 341.90 95.00 C342.02 107.58 341.88 132.98 342.30 133.00 C342.48 133.01 342.36 127.97 343.00 126.00 C343.53 124.38 344.28 123.18 345.40 121.90 C346.74 120.37 348.79 119.13 350.80 117.70 C353.17 116.01 356.13 114.27 358.80 112.50 C361.50 110.71 364.54 108.73 366.90 107.00 C368.82 105.60 370.41 104.17 372.00 103.00 C373.34 102.02 375.02 100.33 375.80 100.40 C376.19 100.44 376.38 100.70 376.60 101.20 C377.37 102.95 377.04 110.11 377.20 115.00 C377.38 120.53 377.14 132.65 377.60 132.70 C377.78 132.72 378.01 130.82 378.30 130.00 C378.56 129.27 378.72 128.58 379.20 128.00 C379.74 127.35 380.52 126.83 381.50 126.40 C382.88 125.80 385.04 125.53 386.90 125.20 C388.86 124.85 390.91 124.63 393.00 124.40 C395.20 124.16 397.59 123.99 399.80 123.80 C401.91 123.62 403.89 123.46 406.00 123.30 C408.19 123.13 410.50 122.95 412.70 122.80 C414.83 122.65 416.87 122.50 419.00 122.40 C421.17 122.30 423.62 122.19 425.60 122.20 C427.22 122.21 428.63 122.27 430.00 122.40 C431.21 122.52 432.40 122.45 433.40 122.90 C434.40 123.35 435.35 124.30 436.00 125.10 C436.56 125.79 436.84 127.35 437.20 127.30 C437.73 127.23 437.87 123.76 438.50 122.00 C439.17 120.12 440.26 116.49 441.20 116.40 C441.94 116.33 442.52 118.89 443.50 119.50 C444.41 120.07 445.55 119.88 446.80 120.10 C448.44 120.39 451.21 120.15 452.50 121.10 C453.63 121.93 453.95 123.37 454.50 125.00 C455.31 127.39 455.40 132.49 456.20 134.30 C456.58 135.16 457.10 136.08 457.50 136.00 C458.29 135.84 458.81 130.57 459.50 128.00 C460.15 125.58 460.61 122.91 461.50 121.00 C462.20 119.51 463.17 118.53 464.00 117.30" fill="none" stroke="#000" stroke-width="1.90" stroke-linejoin="round" stroke-linecap="round" clip-path="url(#clipb)"/>
<path d="M271.50 151.79 L272.00 151.65 L272.50 151.50 L273.00 151.36 L273.50 151.21 L274.00 151.07 L274.50 150.92 L275.00 150.76 L275.50 150.61 L276.00 150.46 L276.50 150.30 L277.00 150.14 L277.50 149.98 L278.00 149.82 L278.50 149.66 L279.00 149.49 L279.50 149.32 L280.00 149.16 L280.50 148.98 L281.00 148.81 L281.50 148.63 L282.00 148.46 L282.50 148.28 L283.00 148.09 L283.50 147.91 L284.00 147.72 L284.50 147.53 L285.00 147.34 L285.50 147.14 L286.00 146.95 L286.50 146.75 L287.00 146.54 L287.50 146.34 L288.00 146.13 L288.50 145.92 L289.00 145.70 L289.50 145.49 L290.00 145.27 L290.50 145.04 L291.00 144.82 L291.50 144.59 L292.00 144.36 L292.50 144.12 L293.00 143.88 L293.50 143.64 L294.00 143.39 L294.50 143.14 L295.00 142.88 L295.50 142.63 L296.00 142.36 L296.50 142.10 L297.00 141.83 L297.50 141.55 L298.00 141.27 L298.50 140.99 L299.00 140.70 L299.50 140.40 L300.00 140.11 L300.50 139.80 L301.00 139.49 L301.50 139.18 L302.00 138.86 L302.50 138.53 L303.00 138.20 L303.50 137.87 L304.00 137.52 L304.50 137.17 L305.00 136.82 L305.50 136.45 L306.00 136.08 L306.50 135.71 L307.00 135.32 L307.50 134.93 L308.00 134.53 L308.50 134.13 L309.00 133.71 L309.50 133.29 L310.00 132.85 L310.50 132.41 L311.00 131.96 L311.50 131.50 L312.00 131.02 L312.50 130.54 L313.00 130.05 L313.50 129.54 L314.00 129.03 L314.50 128.50 L315.00 127.96 L315.50 127.40 L316.00 126.84 L316.50 126.25 L317.00 125.66 L317.50 125.05 L318.00 124.42 L318.50 123.77 L319.00 123.11 L319.50 122.43 L320.00 121.73 L320.50 121.01 L321.00 120.27 L321.50 119.51 L322.00 118.73 L322.50 117.92 L323.00 117.08 L323.50 116.22 L324.00 115.33 L324.50 114.42 L325.00 113.47 L325.50 112.48 L326.00 111.47 L326.50 110.41 L327.00 109.32 L327.50 108.19 L328.00 107.01 L328.50 105.78 L329.00 104.51 L329.50 103.18 L330.00 101.79 L330.50 100.34 L331.00 98.82 L331.50 97.23 L332.00 95.56 L332.50 93.80 L333.00 91.95 L333.50 90.00 L334.00 87.94 L334.50 85.75 L335.00 83.41 L335.50 80.93 L336.00 78.26 L336.50 75.39 L337.00 72.28 L337.50 68.90 L338.00 65.19 L338.50 61.06 L339.00 56.40 L339.50 50.98 L340.00 44.22 L340.20 40.50 C340.33 40.49 340.64 41.71 340.80 43.00 C341.33 47.19 341.13 60.12 341.30 70.00 C341.50 82.03 341.72 98.01 341.90 110.00 C342.05 119.80 341.99 136.69 342.30 136.70 C342.48 136.71 342.56 131.09 343.00 128.00 C343.52 124.42 343.81 119.47 345.40 116.50 C346.68 114.10 348.72 112.70 350.80 111.00 C353.12 109.11 356.13 107.54 358.80 105.80 C361.49 104.04 364.52 102.10 366.90 100.50 C368.80 99.22 370.40 97.97 372.00 97.00 C373.33 96.19 375.04 94.84 375.80 95.00 C376.22 95.09 376.38 95.42 376.60 96.00 C377.32 97.93 377.04 104.71 377.20 110.00 C377.41 116.93 377.30 133.99 377.60 134.00 C377.76 134.01 377.92 129.57 378.20 127.50 C378.46 125.58 378.64 123.55 379.20 122.00 C379.65 120.75 380.24 119.65 381.00 118.80 C381.70 118.02 382.57 117.50 383.50 117.00 C384.51 116.45 385.59 116.10 386.90 115.70 C388.62 115.18 390.90 114.71 393.00 114.30 C395.20 113.87 397.59 113.56 399.80 113.20 C401.91 112.86 403.89 112.53 406.00 112.20 C408.19 111.86 410.50 111.47 412.70 111.20 C414.83 110.94 416.87 110.77 419.00 110.60 C421.17 110.43 423.62 110.24 425.60 110.20 C427.21 110.17 428.63 110.15 430.00 110.30 C431.21 110.44 432.44 110.63 433.40 111.00 C434.18 111.31 434.92 111.60 435.40 112.20 C435.94 112.88 436.06 113.84 436.30 115.00 C436.67 116.78 436.72 121.90 437.00 121.90 C437.36 121.90 437.71 113.64 438.30 110.00 C438.81 106.86 438.97 101.91 440.20 101.30 C440.93 100.94 442.03 102.01 443.00 102.60 C444.21 103.33 445.52 104.59 446.80 105.50 C448.05 106.39 449.63 107.01 450.60 108.00 C451.46 108.88 452.04 109.72 452.50 111.00 C453.16 112.83 453.03 118.19 453.40 118.20 C453.74 118.21 454.26 111.98 454.60 112.00 C455.03 112.02 455.31 118.51 455.60 122.00 C455.92 125.82 456.17 134.00 456.40 134.00 C456.65 134.00 456.84 125.22 457.00 120.00 C457.20 113.39 456.81 97.57 457.40 97.50 C457.65 97.47 457.78 100.67 458.40 101.50 C458.83 102.07 459.41 102.31 460.10 102.50 C461.01 102.75 462.37 102.50 463.50 102.50" fill="none" stroke="#f00" stroke-width="1.90" stroke-linejoin="round" stroke-linecap="round" clip-path="url(#clipb)"/>
<path d="M271.50 151.43 L272.00 151.27 L272.50 151.12 L273.00 150.96 L273.50 150.80 L274.00 150.64 L274.50 150.48 L275.00 150.32 L275.50 150.15 L276.00 149.98 L276.50 149.81 L277.00 149.63 L277.50 149.46 L278.00 149.28 L278.50 149.10 L279.00 148.92 L279.50 148.73 L280.00 148.54 L280.50 148.35 L281.00 148.16 L281.50 147.96 L282.00 147.76 L282.50 147.56 L283.00 147.36 L283.50 147.15 L284.00 146.94 L284.50 146.72 L285.00 146.51 L285.50 146.29 L286.00 146.06 L286.50 145.84 L287.00 145.61 L287.50 145.37 L288.00 145.14 L288.50 144.89 L289.00 144.65 L289.50 144.40 L290.00 144.15 L290.50 143.89 L291.00 143.63 L291.50 143.37 L292.00 143.10 L292.50 142.82 L293.00 142.54 L293.50 142.26 L294.00 141.97 L294.50 141.68 L295.00 141.38 L295.50 141.08 L296.00 140.77 L296.50 140.46 L297.00 140.14 L297.50 139.81 L298.00 139.48 L298.50 139.14 L299.00 138.80 L299.50 138.45 L300.00 138.09 L300.50 137.73 L301.00 137.36 L301.50 136.98 L302.00 136.60 L302.50 136.20 L303.00 135.80 L303.50 135.40 L304.00 134.98 L304.50 134.55 L305.00 134.12 L305.50 133.68 L306.00 133.22 L306.50 132.76 L307.00 132.29 L307.50 131.81 L308.00 131.31 L308.50 130.81 L309.00 130.29 L309.50 129.76 L310.00 129.22 L310.50 128.67 L311.00 128.10 L311.50 127.52 L312.00 126.93 L312.50 126.32 L313.00 125.70 L313.50 125.06 L314.00 124.40 L314.50 123.73 L315.00 123.04 L315.50 122.33 L316.00 121.61 L316.50 120.86 L317.00 120.09 L317.50 119.30 L318.00 118.49 L318.50 117.66 L319.00 116.80 L319.50 115.91 L320.00 115.00 L320.50 114.06 L321.00 113.09 L321.50 112.10 L322.00 111.07 L322.50 110.00 L323.00 108.90 L323.50 107.77 L324.00 106.59 L324.50 105.38 L325.00 104.12 L325.50 102.82 L326.00 101.47 L326.50 100.07 L327.00 98.61 L327.50 97.10 L328.00 95.53 L328.50 93.90 L329.00 92.21 L329.50 90.44 L330.00 88.59 L330.50 86.67 L331.00 84.66 L331.50 82.56 L332.00 80.36 L332.50 78.06 L333.00 75.65 L333.50 73.12 L334.00 70.46 L334.50 67.66 L335.00 64.71 L335.50 61.60 L336.00 58.32 L336.50 54.85 L337.00 51.18 L337.50 47.29 L338.00 43.15 L338.50 38.76 L339.00 34.09 L339.50 29.13 L339.70 27.00 C339.88 26.31 340.36 24.95 340.60 25.00 C341.33 25.15 341.04 36.83 341.20 45.00 C341.46 57.91 341.50 79.51 341.70 95.00 C341.87 108.45 341.95 132.69 342.30 132.70 C342.49 132.70 342.57 125.86 343.00 122.00 C343.52 117.41 343.96 111.49 345.40 107.00 C346.69 103.00 348.54 99.45 350.80 96.20 C353.02 92.99 356.01 90.12 358.80 87.60 C361.39 85.26 364.47 83.12 366.90 81.50 C368.76 80.26 370.39 79.22 372.00 78.50 C373.32 77.91 375.05 77.04 375.80 77.30 C376.25 77.46 376.38 77.82 376.60 78.50 C377.34 80.80 377.04 88.64 377.20 95.00 C377.41 103.72 377.39 126.00 377.60 126.00 C377.71 126.00 377.77 119.63 378.00 117.00 C378.18 114.94 378.35 113.14 378.70 111.50 C378.99 110.13 379.37 108.87 379.80 107.80 C380.16 106.92 380.50 106.24 381.00 105.50 C381.55 104.70 382.15 103.89 383.00 103.20 C384.03 102.36 385.46 101.45 386.90 101.00 C388.44 100.51 390.12 100.64 392.00 100.50 C394.32 100.33 397.35 100.08 399.80 100.10 C401.99 100.11 403.90 100.28 406.00 100.50 C408.19 100.73 410.51 101.11 412.70 101.50 C414.84 101.88 416.88 102.31 419.00 102.80 C421.18 103.31 423.63 103.91 425.60 104.50 C427.23 104.99 428.68 105.29 430.00 106.00 C431.27 106.68 432.52 107.59 433.40 108.60 C434.22 109.54 434.75 110.71 435.20 111.80 C435.63 112.84 435.86 113.60 436.10 115.00 C436.54 117.55 436.62 121.79 436.80 126.00 C437.04 131.68 437.09 146.00 437.20 146.00 C437.33 146.00 437.37 127.93 437.50 120.00 C437.61 113.31 437.29 101.60 437.90 101.50 C438.13 101.46 438.42 103.96 438.80 104.00 C439.18 104.04 439.68 101.67 440.20 101.70 C441.03 101.75 442.13 105.55 443.10 107.90 C444.33 110.88 445.60 114.60 446.80 118.20 C448.10 122.10 449.37 126.25 450.60 130.50 C451.91 135.03 453.34 140.50 454.40 144.60 C455.22 147.76 455.86 150.64 456.50 153.00 C456.97 154.74 457.39 157.52 457.80 157.50 C458.33 157.48 458.83 152.85 459.30 150.00 C459.92 146.27 460.37 141.68 461.00 137.00 C461.74 131.49 462.67 125.00 463.50 119.00" fill="none" stroke="#00f" stroke-width="1.90" stroke-linejoin="round" stroke-linecap="round" clip-path="url(#clipb)"/>
<path d="M52.50 323.86 L53.00 323.71 L53.50 323.55 L54.00 323.39 L54.50 323.23 L55.00 323.06 L55.50 322.89 L56.00 322.72 L56.50 322.54 L57.00 322.37 L57.50 322.18 L58.00 322.00 L58.50 321.81 L59.00 321.62 L59.50 321.43 L60.00 321.23 L60.50 321.03 L61.00 320.83 L61.50 320.62 L62.00 320.41 L62.50 320.19 L63.00 319.97 L63.50 319.75 L64.00 319.52 L64.50 319.29 L65.00 319.05 L65.50 318.81 L66.00 318.56 L66.50 318.31 L67.00 318.06 L67.50 317.80 L68.00 317.54 L68.50 317.27 L69.00 316.99 L69.50 316.71 L70.00 316.43 L70.50 316.14 L71.00 315.84 L71.50 315.54 L72.00 315.23 L72.50 314.92 L73.00 314.60 L73.50 314.27 L74.00 313.94 L74.50 313.60 L75.00 313.25 L75.50 312.89 L76.00 312.53 L76.50 312.16 L77.00 311.79 L77.50 311.40 L78.00 311.01 L78.50 310.61 L79.00 310.20 L79.50 309.78 L80.00 309.35 L80.50 308.92 L81.00 308.47 L81.50 308.02 L82.00 307.55 L82.50 307.08 L83.00 306.59 L83.50 306.09 L84.00 305.59 L84.50 305.07 L85.00 304.54 L85.50 304.00 L86.00 303.44 L86.50 302.88 L87.00 302.30 L87.50 301.71 L88.00 301.10 L88.50 300.48 L89.00 299.85 L89.50 299.20 L90.00 298.54 L90.50 297.86 L91.00 297.16 L91.50 296.45 L92.00 295.72 L92.50 294.98 L93.00 294.22 L93.50 293.44 L94.00 292.64 L94.50 291.82 L95.00 290.99 L95.50 290.13 L96.00 289.25 L96.50 288.36 L97.00 287.44 L97.50 286.50 L98.00 285.53 L98.50 284.55 L99.00 283.54 L99.50 282.50 L100.00 281.44 L100.50 280.36 L101.00 279.25 L101.50 278.12 L102.00 276.95 L102.50 275.76 L103.00 274.55 L103.50 273.30 L104.00 272.02 L104.50 270.72 L105.00 269.38 L105.50 268.02 L106.00 266.62 L106.50 265.19 L107.00 263.73 L107.50 262.24 L108.00 260.71 L108.50 259.15 L109.00 257.56 L109.50 255.93 L110.00 254.27 L110.50 252.58 L111.00 250.85 L111.50 249.09 L112.00 247.30 L112.50 245.47 L113.00 243.60 L113.50 241.71 L114.00 239.78 L114.50 237.82 L115.00 235.83 L115.50 233.81 L116.00 231.77 L116.50 229.69 L117.00 227.59 L117.50 225.46 L118.00 223.31 L118.50 221.15 L119.00 218.96 L119.50 216.76 L120.00 214.54 L120.50 212.31 L121.00 210.08 L121.50 207.84 L122.00 205.61 L122.50 203.38 L123.00 201.15 L123.50 198.94 L124.00 196.74 L124.50 194.57 L125.00 192.42 L125.50 190.30 L125.60 189.50 C125.67 189.25 125.80 188.79 125.90 188.80 C126.10 188.82 126.34 190.49 126.50 192.00 C126.87 195.55 126.78 203.24 126.90 210.00 C127.06 218.73 127.15 228.75 127.30 240.00 C127.50 254.47 127.75 289.60 128.00 289.60 C128.13 289.60 128.17 280.37 128.40 276.00 C128.62 271.92 128.82 267.01 129.30 264.20 C129.57 262.60 129.87 261.63 130.30 260.50 C130.69 259.48 131.07 258.68 131.70 257.70 C132.50 256.44 133.57 254.68 134.90 253.70 C136.23 252.71 137.94 252.12 139.70 251.80 C141.67 251.44 144.04 251.88 146.20 251.90 C148.34 251.92 150.62 252.10 152.60 251.90 C154.35 251.72 156.09 251.35 157.50 250.90 C158.64 250.54 159.62 250.07 160.50 249.60 C161.25 249.20 161.93 248.64 162.50 248.30 C162.92 248.05 163.33 247.56 163.60 247.70 C164.10 247.96 163.97 249.99 164.10 252.00 C164.40 256.62 164.30 267.51 164.40 275.00 C164.50 282.16 164.44 295.99 164.70 296.00 C164.85 296.01 164.84 290.94 165.30 289.00 C165.65 287.54 166.04 286.34 166.80 285.30 C167.55 284.27 168.58 283.27 169.80 282.80 C171.16 282.28 172.99 282.56 174.70 282.60 C176.60 282.64 178.53 282.92 180.70 283.10 C183.29 283.31 186.47 283.76 189.20 283.80 C191.72 283.84 194.21 283.83 196.50 283.41 C198.62 283.03 200.52 282.29 202.50 281.51 C204.55 280.70 206.74 279.75 208.60 278.62 C210.35 277.56 211.83 276.16 213.40 275.01 C214.89 273.92 216.31 272.75 217.80 271.90 C219.18 271.13 220.83 270.04 222.00 270.08 C222.86 270.10 223.62 270.60 224.20 271.19 C224.86 271.86 225.11 272.98 225.60 274.06 C226.22 275.44 227.07 277.06 227.60 278.78 C228.20 280.73 228.52 283.02 228.90 285.20 C229.29 287.43 229.64 289.87 229.90 292.00 C230.13 293.87 230.26 294.91 230.40 297.30 C230.69 302.30 230.71 320.50 230.90 320.50 C231.08 320.50 231.01 300.05 231.50 300.00 C231.69 299.98 231.97 301.74 232.20 303.00 C232.58 305.10 232.68 308.58 233.30 311.50 C233.99 314.73 235.37 318.94 236.30 321.50 C236.90 323.15 237.33 324.63 238.00 325.50 C238.43 326.06 238.93 326.63 239.40 326.60 C239.93 326.57 240.52 325.66 241.00 325.00 C241.58 324.19 241.95 323.03 242.50 322.00 C243.10 320.87 243.83 319.67 244.50 318.50" fill="none" stroke="#000" stroke-width="1.9" stroke-linejoin="round" clip-path="url(#clipc)"/>
<path d="M52.50 323.86 L53.00 323.71 L53.50 323.55 L54.00 323.39 L54.50 323.23 L55.00 323.06 L55.50 322.89 L56.00 322.72 L56.50 322.54 L57.00 322.37 L57.50 322.18 L58.00 322.00 L58.50 321.81 L59.00 321.62 L59.50 321.43 L60.00 321.23 L60.50 321.03 L61.00 320.83 L61.50 320.62 L62.00 320.41 L62.50 320.19 L63.00 319.97 L63.50 319.75 L64.00 319.52 L64.50 319.29 L65.00 319.05 L65.50 318.81 L66.00 318.56 L66.50 318.31 L67.00 318.06 L67.50 317.80 L68.00 317.54 L68.50 317.27 L69.00 316.99 L69.50 316.71 L70.00 316.43 L70.50 316.14 L71.00 315.84 L71.50 315.54 L72.00 315.23 L72.50 314.92 L73.00 314.60 L73.50 314.27 L74.00 313.94 L74.50 313.60 L75.00 313.25 L75.50 312.89 L76.00 312.53 L76.50 312.16 L77.00 311.79 L77.50 311.40 L78.00 311.01 L78.50 310.61 L79.00 310.20 L79.50 309.78 L80.00 309.35 L80.50 308.92 L81.00 308.47 L81.50 308.02 L82.00 307.55 L82.50 307.08 L83.00 306.59 L83.50 306.09 L84.00 305.59 L84.50 305.07 L85.00 304.54 L85.50 304.00 L86.00 303.44 L86.50 302.88 L87.00 302.30 L87.50 301.71 L88.00 301.10 L88.50 300.48 L89.00 299.85 L89.50 299.20 L90.00 298.54 L90.50 297.86 L91.00 297.16 L91.50 296.45 L92.00 295.72 L92.50 294.98 L93.00 294.22 L93.50 293.44 L94.00 292.64 L94.50 291.82 L95.00 290.99 L95.50 290.13 L96.00 289.25 L96.50 288.36 L97.00 287.44 L97.50 286.50 L98.00 285.53 L98.50 284.55 L99.00 283.54 L99.50 282.50 L100.00 281.44 L100.50 280.36 L101.00 279.25 L101.50 278.12 L102.00 276.95 L102.50 275.76 L103.00 274.55 L103.50 273.30 L104.00 272.02 L104.50 270.72 L105.00 269.38 L105.50 268.02 L106.00 266.62 L106.50 265.19 L107.00 263.73 L107.50 262.24 L108.00 260.71 L108.50 259.15 L109.00 257.56 L109.50 255.93 L110.00 254.27 L110.50 252.58 L111.00 250.85 L111.50 249.09 L112.00 247.30 L112.50 245.47 L113.00 243.60 L113.50 241.71 L114.00 239.78 L114.50 237.82 L115.00 235.83 L115.50 233.81 L116.00 231.77 L116.50 229.69 L117.00 227.59 L117.50 225.46 L118.00 223.31 L118.50 221.15 L119.00 218.96 L119.50 216.76 L120.00 214.54 L120.50 212.31 L121.00 210.08 L121.50 207.84 L122.00 205.61 L122.50 203.38 L123.00 201.15 L123.50 198.94 L124.00 196.74 L124.50 194.57 L125.00 192.42 L125.50 190.30 L125.60 189.50 C125.67 189.25 125.80 188.79 125.90 188.80 C126.10 188.82 126.34 190.49 126.50 192.00 C126.87 195.55 126.78 203.24 126.90 210.00 C127.06 218.73 127.15 228.75 127.30 240.00 C127.50 254.47 127.75 289.60 128.00 289.60 C128.13 289.60 128.17 280.37 128.40 276.00 C128.62 271.92 128.82 267.01 129.30 264.20 C129.57 262.60 129.87 261.63 130.30 260.50 C130.69 259.48 131.07 258.68 131.70 257.70 C132.50 256.44 133.57 254.68 134.90 253.70 C136.23 252.71 137.94 252.12 139.70 251.80 C141.67 251.44 144.04 251.88 146.20 251.90 C148.34 251.92 150.62 252.10 152.60 251.90 C154.35 251.72 156.09 251.35 157.50 250.90 C158.64 250.54 159.62 250.07 160.50 249.60 C161.25 249.20 161.93 248.64 162.50 248.30 C162.92 248.05 163.33 247.56 163.60 247.70 C164.10 247.96 163.97 249.99 164.10 252.00 C164.40 256.62 164.30 267.51 164.40 275.00 C164.50 282.16 164.44 295.99 164.70 296.00 C164.85 296.01 164.84 290.94 165.30 289.00 C165.65 287.54 166.04 286.34 166.80 285.30 C167.55 284.27 168.58 283.27 169.80 282.80 C171.16 282.28 172.99 282.56 174.70 282.60 C176.60 282.64 178.53 282.92 180.70 283.10 C183.29 283.31 186.47 283.77 189.20 283.80 C191.72 283.83 194.22 283.82 196.50 283.36 C198.63 282.93 200.52 282.08 202.50 281.25 C204.55 280.38 206.74 279.39 208.60 278.24 C210.35 277.16 211.82 275.76 213.40 274.62 C214.89 273.54 216.31 272.38 217.80 271.57 C219.18 270.83 220.84 269.80 222.00 269.86 C222.86 269.91 223.62 270.44 224.20 271.05 C224.86 271.74 225.11 272.87 225.60 273.97 C226.22 275.37 227.07 277.02 227.60 278.76 C228.20 280.72 228.52 283.02 228.90 285.20 C229.29 287.43 229.64 289.87 229.90 292.00 C230.13 293.87 230.26 294.91 230.40 297.30 C230.69 302.30 230.71 320.50 230.90 320.50 C231.08 320.50 231.01 300.05 231.50 300.00 C231.69 299.98 231.97 301.74 232.20 303.00 C232.58 305.10 232.68 308.58 233.30 311.50 C233.99 314.73 235.37 318.94 236.30 321.50 C236.90 323.15 237.33 324.63 238.00 325.50 C238.43 326.06 238.93 326.63 239.40 326.60 C239.93 326.57 240.52 325.66 241.00 325.00 C241.58 324.19 241.95 323.03 242.50 322.00 C243.10 320.87 243.83 319.67 244.50 318.50" fill="none" stroke="#f00" stroke-width="1.9" stroke-linejoin="round" clip-path="url(#clipc)"/>
<path d="M52.50 323.86 L53.00 323.71 L53.50 323.55 L54.00 323.39 L54.50 323.23 L55.00 323.06 L55.50 322.89 L56.00 322.72 L56.50 322.54 L57.00 322.37 L57.50 322.18 L58.00 322.00 L58.50 321.81 L59.00 321.62 L59.50 321.43 L60.00 321.23 L60.50 321.03 L61.00 320.83 L61.50 320.62 L62.00 320.41 L62.50 320.19 L63.00 319.97 L63.50 319.75 L64.00 319.52 L64.50 319.29 L65.00 319.05 L65.50 318.81 L66.00 318.56 L66.50 318.31 L67.00 318.06 L67.50 317.80 L68.00 317.54 L68.50 317.27 L69.00 316.99 L69.50 316.71 L70.00 316.43 L70.50 316.14 L71.00 315.84 L71.50 315.54 L72.00 315.23 L72.50 314.92 L73.00 314.60 L73.50 314.27 L74.00 313.94 L74.50 313.60 L75.00 313.25 L75.50 312.89 L76.00 312.53 L76.50 312.16 L77.00 311.79 L77.50 311.40 L78.00 311.01 L78.50 310.61 L79.00 310.20 L79.50 309.78 L80.00 309.35 L80.50 308.92 L81.00 308.47 L81.50 308.02 L82.00 307.55 L82.50 307.08 L83.00 306.59 L83.50 306.09 L84.00 305.59 L84.50 305.07 L85.00 304.54 L85.50 304.00 L86.00 303.44 L86.50 302.88 L87.00 302.30 L87.50 301.71 L88.00 301.10 L88.50 300.48 L89.00 299.85 L89.50 299.20 L90.00 298.54 L90.50 297.86 L91.00 297.16 L91.50 296.45 L92.00 295.72 L92.50 294.98 L93.00 294.22 L93.50 293.44 L94.00 292.64 L94.50 291.82 L95.00 290.99 L95.50 290.13 L96.00 289.25 L96.50 288.36 L97.00 287.44 L97.50 286.50 L98.00 285.53 L98.50 284.55 L99.00 283.54 L99.50 282.50 L100.00 281.44 L100.50 280.36 L101.00 279.25 L101.50 278.12 L102.00 276.95 L102.50 275.76 L103.00 274.55 L103.50 273.30 L104.00 272.02 L104.50 270.72 L105.00 269.38 L105.50 268.02 L106.00 266.62 L106.50 265.19 L107.00 263.73 L107.50 262.24 L108.00 260.71 L108.50 259.15 L109.00 257.56 L109.50 255.93 L110.00 254.27 L110.50 252.58 L111.00 250.85 L111.50 249.09 L112.00 247.30 L112.50 245.47 L113.00 243.60 L113.50 241.71 L114.00 239.78 L114.50 237.82 L115.00 235.83 L115.50 233.81 L116.00 231.77 L116.50 229.69 L117.00 227.59 L117.50 225.46 L118.00 223.31 L118.50 221.15 L119.00 218.96 L119.50 216.76 L120.00 214.54 L120.50 212.31 L121.00 210.08 L121.50 207.84 L122.00 205.61 L122.50 203.38 L123.00 201.15 L123.50 198.94 L124.00 196.74 L124.50 194.57 L125.00 192.42 L125.50 190.30 L125.60 189.50 C125.67 189.25 125.80 188.79 125.90 188.80 C126.10 188.82 126.34 190.49 126.50 192.00 C126.87 195.55 126.78 203.24 126.90 210.00 C127.06 218.73 127.15 228.75 127.30 240.00 C127.50 254.47 127.75 289.60 128.00 289.60 C128.13 289.60 128.17 280.37 128.40 276.00 C128.62 271.92 128.82 267.01 129.30 264.20 C129.57 262.60 129.87 261.63 130.30 260.50 C130.69 259.48 131.07 258.68 131.70 257.70 C132.50 256.44 133.57 254.68 134.90 253.70 C136.23 252.71 137.94 252.12 139.70 251.80 C141.67 251.44 144.04 251.88 146.20 251.90 C148.34 251.92 150.62 252.10 152.60 251.90 C154.35 251.72 156.09 251.35 157.50 250.90 C158.64 250.54 159.62 250.07 160.50 249.60 C161.25 249.20 161.93 248.64 162.50 248.30 C162.92 248.05 163.33 247.56 163.60 247.70 C164.10 247.96 163.97 249.99 164.10 252.00 C164.40 256.62 164.30 267.51 164.40 275.00 C164.50 282.16 164.44 295.99 164.70 296.00 C164.85 296.01 164.84 290.94 165.30 289.00 C165.65 287.54 166.04 286.34 166.80 285.30 C167.55 284.27 168.58 283.27 169.80 282.80 C171.16 282.28 172.99 282.56 174.70 282.60 C176.60 282.64 178.53 282.92 180.70 283.10 C183.29 283.31 186.47 283.79 189.20 283.80 C191.73 283.81 194.22 283.80 196.50 283.27 C198.64 282.78 200.51 281.77 202.50 280.85 C204.55 279.91 206.73 278.84 208.60 277.66 C210.35 276.55 211.82 275.15 213.40 274.03 C214.88 272.97 216.30 271.84 217.80 271.08 C219.18 270.38 220.84 269.43 222.00 269.53 C222.87 269.61 223.47 270.24 224.20 270.83 C225.11 271.58 226.15 272.64 226.90 273.84 C227.76 275.21 228.36 276.97 228.90 278.74 C229.50 280.72 229.82 283.01 230.20 285.20 C230.59 287.43 230.94 289.87 231.20 292.00 C231.43 293.87 231.63 294.91 231.70 297.30 C231.85 302.30 230.68 320.49 230.90 320.50 C231.10 320.51 232.19 300.04 232.80 300.00 C233.04 299.98 233.27 301.74 233.50 303.00 C233.88 305.10 233.98 308.58 234.60 311.50 C235.29 314.73 237.08 318.90 237.60 321.50 C237.92 323.11 237.53 324.64 238.00 325.50 C238.32 326.07 238.93 326.63 239.40 326.60 C239.93 326.57 240.52 325.66 241.00 325.00 C241.58 324.19 241.95 323.03 242.50 322.00 C243.10 320.87 243.83 319.67 244.50 318.50" fill="none" stroke="#00f" stroke-width="1.9" stroke-linejoin="round" clip-path="url(#clipc)"/>
<path d="M52.50 323.86 L53.00 323.71 L53.50 323.55 L54.00 323.39 L54.50 323.23 L55.00 323.06 L55.50 322.89 L56.00 322.72 L56.50 322.54 L57.00 322.37 L57.50 322.18 L58.00 322.00 L58.50 321.81 L59.00 321.62 L59.50 321.43 L60.00 321.23 L60.50 321.03 L61.00 320.83 L61.50 320.62 L62.00 320.41 L62.50 320.19 L63.00 319.97 L63.50 319.75 L64.00 319.52 L64.50 319.29 L65.00 319.05 L65.50 318.81 L66.00 318.56 L66.50 318.31 L67.00 318.06 L67.50 317.80 L68.00 317.54 L68.50 317.27 L69.00 316.99 L69.50 316.71 L70.00 316.43 L70.50 316.14 L71.00 315.84 L71.50 315.54 L72.00 315.23 L72.50 314.92 L73.00 314.60 L73.50 314.27 L74.00 313.94 L74.50 313.60 L75.00 313.25 L75.50 312.89 L76.00 312.53 L76.50 312.16 L77.00 311.79 L77.50 311.40 L78.00 311.01 L78.50 310.61 L79.00 310.20 L79.50 309.78 L80.00 309.35 L80.50 308.92 L81.00 308.47 L81.50 308.02 L82.00 307.55 L82.50 307.08 L83.00 306.59 L83.50 306.09 L84.00 305.59 L84.50 305.07 L85.00 304.54 L85.50 304.00 L86.00 303.44 L86.50 302.88 L87.00 302.30 L87.50 301.71 L88.00 301.10 L88.50 300.48 L89.00 299.85 L89.50 299.20 L90.00 298.54 L90.50 297.86 L91.00 297.16 L91.50 296.45 L92.00 295.72 L92.50 294.98 L93.00 294.22 L93.50 293.44 L94.00 292.64 L94.50 291.82 L95.00 290.99 L95.50 290.13 L96.00 289.25 L96.50 288.36 L97.00 287.44 L97.50 286.50 L98.00 285.53 L98.50 284.55 L99.00 283.54 L99.50 282.50 L100.00 281.44 L100.50 280.36 L101.00 279.25 L101.50 278.12 L102.00 276.95 L102.50 275.76 L103.00 274.55 L103.50 273.30 L104.00 272.02 L104.50 270.72 L105.00 269.38 L105.50 268.02 L106.00 266.62 L106.50 265.19 L107.00 263.73 L107.50 262.24 L108.00 260.71 L108.50 259.15 L109.00 257.56 L109.50 255.93 L110.00 254.27 L110.50 252.58 L111.00 250.85 L111.50 249.09 L112.00 247.30 L112.50 245.47 L113.00 243.60 L113.50 241.71 L114.00 239.78 L114.50 237.82 L115.00 235.83 L115.50 233.81 L116.00 231.77 L116.50 229.69 L117.00 227.59 L117.50 225.46 L118.00 223.31 L118.50 221.15 L119.00 218.96 L119.50 216.76 L120.00 214.54 L120.50 212.31 L121.00 210.08 L121.50 207.84 L122.00 205.61 L122.50 203.38 L123.00 201.15 L123.50 198.94 L124.00 196.74 L124.50 194.57 L125.00 192.42 L125.50 190.30 L125.60 189.50 C125.67 189.25 125.80 188.79 125.90 188.80 C126.10 188.82 126.34 190.49 126.50 192.00 C126.87 195.55 126.78 203.24 126.90 210.00 C127.06 218.73 127.14 228.81 127.30 240.00 C127.50 254.21 127.75 288.40 128.00 288.40 C128.13 288.40 128.18 280.08 128.40 276.00 C128.62 272.02 128.82 267.01 129.30 264.20 C129.57 262.60 129.87 261.63 130.30 260.50 C130.69 259.48 131.07 258.68 131.70 257.70 C132.50 256.44 133.57 254.68 134.90 253.70 C136.23 252.71 137.94 252.12 139.70 251.80 C141.67 251.44 144.04 251.88 146.20 251.90 C148.34 251.92 150.62 252.10 152.60 251.90 C154.35 251.72 156.09 251.35 157.50 250.90 C158.64 250.54 159.62 250.07 160.50 249.60 C161.25 249.20 161.93 248.64 162.50 248.30 C162.92 248.05 163.33 247.56 163.60 247.70 C164.10 247.96 163.97 249.99 164.10 252.00 C164.40 256.62 164.30 267.62 164.40 275.00 C164.50 281.85 164.43 294.79 164.70 294.80 C164.85 294.81 164.88 290.69 165.30 289.00 C165.65 287.60 166.04 286.34 166.80 285.30 C167.55 284.27 168.58 283.27 169.80 282.80 C171.16 282.28 172.99 282.56 174.70 282.60 C176.60 282.64 178.53 282.92 180.70 283.10 C183.29 283.31 186.47 283.74 189.20 283.80 C191.72 283.85 194.20 283.85 196.50 283.50 C198.62 283.18 200.52 282.60 202.50 281.90 C204.55 281.18 206.74 280.29 208.60 279.20 C210.36 278.17 211.83 276.76 213.40 275.60 C214.89 274.50 216.31 273.29 217.80 272.40 C219.18 271.58 220.82 270.41 222.00 270.40 C222.85 270.39 223.62 270.84 224.20 271.40 C224.86 272.04 225.11 273.14 225.60 274.20 C226.22 275.54 227.07 277.11 227.60 278.80 C228.21 280.73 228.52 283.03 228.90 285.20 C229.29 287.43 229.64 289.87 229.90 292.00 C230.13 293.87 230.26 294.91 230.40 297.30 C230.69 302.30 230.71 320.50 230.90 320.50 C231.08 320.50 231.01 300.05 231.50 300.00 C231.69 299.98 231.97 301.74 232.20 303.00 C232.58 305.10 232.68 308.58 233.30 311.50 C233.99 314.73 235.37 318.94 236.30 321.50 C236.90 323.15 237.33 324.63 238.00 325.50 C238.43 326.06 238.93 326.63 239.40 326.60 C239.93 326.57 240.52 325.66 241.00 325.00 C241.58 324.19 241.95 323.03 242.50 322.00 C243.10 320.87 243.83 319.67 244.50 318.50" fill="none" stroke="#f0f" stroke-width="1.9" stroke-linejoin="round" clip-path="url(#clipc)"/>
<path d="M271.50 323.86 L272.00 323.71 L272.50 323.55 L273.00 323.39 L273.50 323.23 L274.00 323.06 L274.50 322.89 L275.00 322.72 L275.50 322.54 L276.00 322.37 L276.50 322.18 L277.00 322.00 L277.50 321.81 L278.00 321.62 L278.50 321.43 L279.00 321.23 L279.50 321.03 L280.00 320.83 L280.50 320.62 L281.00 320.41 L281.50 320.19 L282.00 319.97 L282.50 319.75 L283.00 319.52 L283.50 319.29 L284.00 319.05 L284.50 318.81 L285.00 318.56 L285.50 318.31 L286.00 318.06 L286.50 317.80 L287.00 317.54 L287.50 317.27 L288.00 316.99 L288.50 316.71 L289.00 316.43 L289.50 316.14 L290.00 315.84 L290.50 315.54 L291.00 315.23 L291.50 314.92 L292.00 314.60 L292.50 314.27 L293.00 313.94 L293.50 313.60 L294.00 313.25 L294.50 312.89 L295.00 312.53 L295.50 312.16 L296.00 311.79 L296.50 311.40 L297.00 311.01 L297.50 310.61 L298.00 310.20 L298.50 309.78 L299.00 309.35 L299.50 308.92 L300.00 308.47 L300.50 308.02 L301.00 307.55 L301.50 307.08 L302.00 306.59 L302.50 306.09 L303.00 305.59 L303.50 305.07 L304.00 304.54 L304.50 304.00 L305.00 303.44 L305.50 302.88 L306.00 302.30 L306.50 301.71 L307.00 301.10 L307.50 300.48 L308.00 299.85 L308.50 299.20 L309.00 298.54 L309.50 297.86 L310.00 297.16 L310.50 296.45 L311.00 295.72 L311.50 294.98 L312.00 294.22 L312.50 293.44 L313.00 292.64 L313.50 291.82 L314.00 290.99 L314.50 290.13 L315.00 289.25 L315.50 288.36 L316.00 287.44 L316.50 286.50 L317.00 285.53 L317.50 284.55 L318.00 283.54 L318.50 282.50 L319.00 281.44 L319.50 280.36 L320.00 279.25 L320.50 278.12 L321.00 276.95 L321.50 275.76 L322.00 274.55 L322.50 273.30 L323.00 272.02 L323.50 270.72 L324.00 269.38 L324.50 268.02 L325.00 266.62 L325.50 265.19 L326.00 263.73 L326.50 262.24 L327.00 260.71 L327.50 259.15 L328.00 257.56 L328.50 255.93 L329.00 254.27 L329.50 252.58 L330.00 250.85 L330.50 249.09 L331.00 247.30 L331.50 245.47 L332.00 243.60 L332.50 241.71 L333.00 239.78 L333.50 237.82 L334.00 235.83 L334.50 233.81 L335.00 231.77 L335.50 229.69 L336.00 227.59 L336.50 225.46 L337.00 223.31 L337.50 221.15 L338.00 218.96 L338.50 216.76 L339.00 214.54 L339.50 212.31 L340.00 210.08 L340.50 207.84 L341.00 205.61 L341.50 203.38 L342.00 201.15 L342.50 198.94 L343.00 196.74 L343.50 194.57 L344.00 192.42 L344.50 190.30 L344.60 189.50 C344.67 189.25 344.80 188.79 344.90 188.80 C345.10 188.82 345.34 190.49 345.50 192.00 C345.87 195.55 345.78 203.24 345.90 210.00 C346.06 218.73 346.15 228.75 346.30 240.00 C346.50 254.47 346.75 289.60 347.00 289.60 C347.13 289.60 347.17 280.37 347.40 276.00 C347.62 271.92 347.82 267.01 348.30 264.20 C348.57 262.60 348.87 261.63 349.30 260.50 C349.69 259.48 350.07 258.68 350.70 257.70 C351.50 256.44 352.57 254.68 353.90 253.70 C355.23 252.71 356.94 252.12 358.70 251.80 C360.67 251.44 363.04 251.88 365.20 251.90 C367.34 251.92 369.62 252.10 371.60 251.90 C373.35 251.72 375.09 251.35 376.50 250.90 C377.64 250.54 378.62 250.07 379.50 249.60 C380.25 249.20 380.93 248.64 381.50 248.30 C381.92 248.05 382.33 247.56 382.60 247.70 C383.10 247.96 382.97 249.99 383.10 252.00 C383.40 256.62 383.30 267.51 383.40 275.00 C383.50 282.16 383.44 295.99 383.70 296.00 C383.85 296.01 383.84 290.94 384.30 289.00 C384.65 287.54 385.04 286.34 385.80 285.30 C386.55 284.27 387.58 283.27 388.80 282.80 C390.16 282.28 391.99 282.56 393.70 282.60 C395.60 282.64 397.53 282.92 399.70 283.10 C402.29 283.31 405.47 283.76 408.20 283.80 C410.72 283.84 413.21 283.83 415.50 283.41 C417.62 283.03 419.52 282.29 421.50 281.51 C423.55 280.70 425.74 279.75 427.60 278.62 C429.35 277.56 430.83 276.16 432.40 275.01 C433.89 273.92 435.31 272.75 436.80 271.90 C438.18 271.13 439.83 270.04 441.00 270.08 C441.86 270.10 442.62 270.60 443.20 271.19 C443.86 271.86 444.11 272.98 444.60 274.06 C445.22 275.44 446.07 277.06 446.60 278.78 C447.20 280.73 447.52 283.02 447.90 285.20 C448.29 287.43 448.64 289.87 448.90 292.00 C449.13 293.87 449.26 294.91 449.40 297.30 C449.69 302.30 449.71 320.50 449.90 320.50 C450.08 320.50 450.01 300.05 450.50 300.00 C450.69 299.98 450.97 301.74 451.20 303.00 C451.58 305.10 451.68 308.58 452.30 311.50 C452.99 314.73 454.37 318.94 455.30 321.50 C455.90 323.15 456.33 324.63 457.00 325.50 C457.43 326.06 457.93 326.63 458.40 326.60 C458.93 326.57 459.52 325.66 460.00 325.00 C460.58 324.19 460.95 323.03 461.50 322.00 C462.10 320.87 462.83 319.67 463.50 318.50" fill="none" stroke="#000" stroke-width="1.9" stroke-linejoin="round" clip-path="url(#clipd)"/>
<path d="M271.50 323.86 L272.00 323.71 L272.50 323.55 L273.00 323.39 L273.50 323.23 L274.00 323.06 L274.50 322.89 L275.00 322.72 L275.50 322.54 L276.00 322.37 L276.50 322.18 L277.00 322.00 L277.50 321.81 L278.00 321.62 L278.50 321.43 L279.00 321.23 L279.50 321.03 L280.00 320.83 L280.50 320.62 L281.00 320.41 L281.50 320.19 L282.00 319.97 L282.50 319.75 L283.00 319.52 L283.50 319.29 L284.00 319.05 L284.50 318.81 L285.00 318.56 L285.50 318.31 L286.00 318.06 L286.50 317.80 L287.00 317.54 L287.50 317.27 L288.00 316.99 L288.50 316.71 L289.00 316.43 L289.50 316.14 L290.00 315.84 L290.50 315.54 L291.00 315.23 L291.50 314.92 L292.00 314.60 L292.50 314.27 L293.00 313.94 L293.50 313.60 L294.00 313.25 L294.50 312.89 L295.00 312.53 L295.50 312.16 L296.00 311.79 L296.50 311.40 L297.00 311.01 L297.50 310.61 L298.00 310.20 L298.50 309.78 L299.00 309.35 L299.50 308.92 L300.00 308.47 L300.50 308.02 L301.00 307.55 L301.50 307.08 L302.00 306.59 L302.50 306.09 L303.00 305.59 L303.50 305.07 L304.00 304.54 L304.50 304.00 L305.00 303.44 L305.50 302.88 L306.00 302.30 L306.50 301.71 L307.00 301.10 L307.50 300.48 L308.00 299.85 L308.50 299.20 L309.00 298.54 L309.50 297.86 L310.00 297.16 L310.50 296.45 L311.00 295.72 L311.50 294.98 L312.00 294.22 L312.50 293.44 L313.00 292.64 L313.50 291.82 L314.00 290.99 L314.50 290.13 L315.00 289.25 L315.50 288.36 L316.00 287.44 L316.50 286.50 L317.00 285.53 L317.50 284.55 L318.00 283.54 L318.50 282.50 L319.00 281.44 L319.50 280.36 L320.00 279.25 L320.50 278.12 L321.00 276.95 L321.50 275.76 L322.00 274.55 L322.50 273.30 L323.00 272.02 L323.50 270.72 L324.00 269.38 L324.50 268.02 L325.00 266.62 L325.50 265.19 L326.00 263.73 L326.50 262.24 L327.00 260.71 L327.50 259.15 L328.00 257.56 L328.50 255.93 L329.00 254.27 L329.50 252.58 L330.00 250.85 L330.50 249.09 L331.00 247.30 L331.50 245.47 L332.00 243.60 L332.50 241.71 L333.00 239.78 L333.50 237.82 L334.00 235.83 L334.50 233.81 L335.00 231.77 L335.50 229.69 L336.00 227.59 L336.50 225.46 L337.00 223.31 L337.50 221.15 L338.00 218.96 L338.50 216.76 L339.00 214.54 L339.50 212.31 L340.00 210.08 L340.50 207.84 L341.00 205.61 L341.50 203.38 L342.00 201.15 L342.50 198.94 L343.00 196.74 L343.50 194.57 L344.00 192.42 L344.50 190.30 L344.60 189.50 C344.67 189.25 344.80 188.79 344.90 188.80 C345.10 188.82 345.34 190.49 345.50 192.00 C345.87 195.55 345.78 203.24 345.90 210.00 C346.06 218.73 346.15 228.75 346.30 240.00 C346.50 254.47 346.75 289.60 347.00 289.60 C347.13 289.60 347.17 280.37 347.40 276.00 C347.62 271.92 347.82 267.01 348.30 264.20 C348.57 262.60 348.87 261.63 349.30 260.50 C349.69 259.48 350.07 258.68 350.70 257.70 C351.50 256.44 352.57 254.68 353.90 253.70 C355.23 252.71 356.94 252.12 358.70 251.80 C360.67 251.44 363.04 251.88 365.20 251.90 C367.34 251.92 369.62 252.10 371.60 251.90 C373.35 251.72 375.09 251.35 376.50 250.90 C377.64 250.54 378.62 250.07 379.50 249.60 C380.25 249.20 380.93 248.64 381.50 248.30 C381.92 248.05 382.33 247.56 382.60 247.70 C383.10 247.96 382.97 249.99 383.10 252.00 C383.40 256.62 383.30 267.51 383.40 275.00 C383.50 282.16 383.44 295.99 383.70 296.00 C383.85 296.01 383.84 290.94 384.30 289.00 C384.65 287.54 385.04 286.34 385.80 285.30 C386.55 284.27 387.58 283.27 388.80 282.80 C390.16 282.28 391.99 282.56 393.70 282.60 C395.60 282.64 397.53 282.92 399.70 283.10 C402.29 283.31 405.47 283.77 408.20 283.80 C410.72 283.83 413.22 283.82 415.50 283.36 C417.63 282.93 419.52 282.08 421.50 281.25 C423.55 280.38 425.74 279.39 427.60 278.24 C429.35 277.16 430.82 275.76 432.40 274.62 C433.89 273.54 435.31 272.38 436.80 271.57 C438.18 270.83 439.84 269.80 441.00 269.86 C441.86 269.91 442.62 270.44 443.20 271.05 C443.86 271.74 444.11 272.87 444.60 273.97 C445.22 275.37 446.07 277.02 446.60 278.76 C447.20 280.72 447.52 283.02 447.90 285.20 C448.29 287.43 448.64 289.87 448.90 292.00 C449.13 293.87 449.26 294.91 449.40 297.30 C449.69 302.30 449.71 320.50 449.90 320.50 C450.08 320.50 450.01 300.05 450.50 300.00 C450.69 299.98 450.97 301.74 451.20 303.00 C451.58 305.10 451.68 308.58 452.30 311.50 C452.99 314.73 454.37 318.94 455.30 321.50 C455.90 323.15 456.33 324.63 457.00 325.50 C457.43 326.06 457.93 326.63 458.40 326.60 C458.93 326.57 459.52 325.66 460.00 325.00 C460.58 324.19 460.95 323.03 461.50 322.00 C462.10 320.87 462.83 319.67 463.50 318.50" fill="none" stroke="#f00" stroke-width="1.9" stroke-linejoin="round" clip-path="url(#clipd)"/>
<path d="M271.50 323.86 L272.00 323.71 L272.50 323.55 L273.00 323.39 L273.50 323.23 L274.00 323.06 L274.50 322.89 L275.00 322.72 L275.50 322.54 L276.00 322.37 L276.50 322.18 L277.00 322.00 L277.50 321.81 L278.00 321.62 L278.50 321.43 L279.00 321.23 L279.50 321.03 L280.00 320.83 L280.50 320.62 L281.00 320.41 L281.50 320.19 L282.00 319.97 L282.50 319.75 L283.00 319.52 L283.50 319.29 L284.00 319.05 L284.50 318.81 L285.00 318.56 L285.50 318.31 L286.00 318.06 L286.50 317.80 L287.00 317.54 L287.50 317.27 L288.00 316.99 L288.50 316.71 L289.00 316.43 L289.50 316.14 L290.00 315.84 L290.50 315.54 L291.00 315.23 L291.50 314.92 L292.00 314.60 L292.50 314.27 L293.00 313.94 L293.50 313.60 L294.00 313.25 L294.50 312.89 L295.00 312.53 L295.50 312.16 L296.00 311.79 L296.50 311.40 L297.00 311.01 L297.50 310.61 L298.00 310.20 L298.50 309.78 L299.00 309.35 L299.50 308.92 L300.00 308.47 L300.50 308.02 L301.00 307.55 L301.50 307.08 L302.00 306.59 L302.50 306.09 L303.00 305.59 L303.50 305.07 L304.00 304.54 L304.50 304.00 L305.00 303.44 L305.50 302.88 L306.00 302.30 L306.50 301.71 L307.00 301.10 L307.50 300.48 L308.00 299.85 L308.50 299.20 L309.00 298.54 L309.50 297.86 L310.00 297.16 L310.50 296.45 L311.00 295.72 L311.50 294.98 L312.00 294.22 L312.50 293.44 L313.00 292.64 L313.50 291.82 L314.00 290.99 L314.50 290.13 L315.00 289.25 L315.50 288.36 L316.00 287.44 L316.50 286.50 L317.00 285.53 L317.50 284.55 L318.00 283.54 L318.50 282.50 L319.00 281.44 L319.50 280.36 L320.00 279.25 L320.50 278.12 L321.00 276.95 L321.50 275.76 L322.00 274.55 L322.50 273.30 L323.00 272.02 L323.50 270.72 L324.00 269.38 L324.50 268.02 L325.00 266.62 L325.50 265.19 L326.00 263.73 L326.50 262.24 L327.00 260.71 L327.50 259.15 L328.00 257.56 L328.50 255.93 L329.00 254.27 L329.50 252.58 L330.00 250.85 L330.50 249.09 L331.00 247.30 L331.50 245.47 L332.00 243.60 L332.50 241.71 L333.00 239.78 L333.50 237.82 L334.00 235.83 L334.50 233.81 L335.00 231.77 L335.50 229.69 L336.00 227.59 L336.50 225.46 L337.00 223.31 L337.50 221.15 L338.00 218.96 L338.50 216.76 L339.00 214.54 L339.50 212.31 L340.00 210.08 L340.50 207.84 L341.00 205.61 L341.50 203.38 L342.00 201.15 L342.50 198.94 L343.00 196.74 L343.50 194.57 L344.00 192.42 L344.50 190.30 L344.60 189.50 C344.67 189.25 344.80 188.79 344.90 188.80 C345.10 188.82 345.34 190.49 345.50 192.00 C345.87 195.55 345.78 203.24 345.90 210.00 C346.06 218.73 346.15 228.75 346.30 240.00 C346.50 254.47 346.75 289.60 347.00 289.60 C347.13 289.60 347.17 280.37 347.40 276.00 C347.62 271.92 347.82 267.01 348.30 264.20 C348.57 262.60 348.87 261.63 349.30 260.50 C349.69 259.48 350.07 258.68 350.70 257.70 C351.50 256.44 352.57 254.68 353.90 253.70 C355.23 252.71 356.94 252.12 358.70 251.80 C360.67 251.44 363.04 251.88 365.20 251.90 C367.34 251.92 369.62 252.10 371.60 251.90 C373.35 251.72 375.09 251.35 376.50 250.90 C377.64 250.54 378.62 250.07 379.50 249.60 C380.25 249.20 380.93 248.64 381.50 248.30 C381.92 248.05 382.33 247.56 382.60 247.70 C383.10 247.96 382.97 249.99 383.10 252.00 C383.40 256.62 383.30 267.51 383.40 275.00 C383.50 282.16 383.44 295.99 383.70 296.00 C383.85 296.01 383.84 290.94 384.30 289.00 C384.65 287.54 385.04 286.34 385.80 285.30 C386.55 284.27 387.58 283.27 388.80 282.80 C390.16 282.28 391.99 282.56 393.70 282.60 C395.60 282.64 397.53 282.92 399.70 283.10 C402.29 283.31 405.47 283.79 408.20 283.80 C410.73 283.81 413.22 283.80 415.50 283.27 C417.64 282.78 419.51 281.77 421.50 280.85 C423.55 279.91 425.73 278.84 427.60 277.66 C429.35 276.55 430.82 275.15 432.40 274.03 C433.88 272.97 435.30 271.84 436.80 271.08 C438.18 270.38 439.84 269.43 441.00 269.53 C441.87 269.61 442.47 270.24 443.20 270.83 C444.11 271.58 445.15 272.64 445.90 273.84 C446.76 275.21 447.36 276.97 447.90 278.74 C448.50 280.72 448.82 283.01 449.20 285.20 C449.59 287.43 449.94 289.87 450.20 292.00 C450.43 293.87 450.63 294.91 450.70 297.30 C450.85 302.30 449.68 320.49 449.90 320.50 C450.10 320.51 451.19 300.04 451.80 300.00 C452.04 299.98 452.27 301.74 452.50 303.00 C452.88 305.10 452.98 308.58 453.60 311.50 C454.29 314.73 456.08 318.90 456.60 321.50 C456.92 323.11 456.53 324.64 457.00 325.50 C457.32 326.07 457.93 326.63 458.40 326.60 C458.93 326.57 459.52 325.66 460.00 325.00 C460.58 324.19 460.95 323.03 461.50 322.00 C462.10 320.87 462.83 319.67 463.50 318.50" fill="none" stroke="#00f" stroke-width="1.9" stroke-linejoin="round" clip-path="url(#clipd)"/>
<path d="M271.50 323.86 L272.00 323.71 L272.50 323.55 L273.00 323.39 L273.50 323.23 L274.00 323.06 L274.50 322.89 L275.00 322.72 L275.50 322.54 L276.00 322.37 L276.50 322.18 L277.00 322.00 L277.50 321.81 L278.00 321.62 L278.50 321.43 L279.00 321.23 L279.50 321.03 L280.00 320.83 L280.50 320.62 L281.00 320.41 L281.50 320.19 L282.00 319.97 L282.50 319.75 L283.00 319.52 L283.50 319.29 L284.00 319.05 L284.50 318.81 L285.00 318.56 L285.50 318.31 L286.00 318.06 L286.50 317.80 L287.00 317.54 L287.50 317.27 L288.00 316.99 L288.50 316.71 L289.00 316.43 L289.50 316.14 L290.00 315.84 L290.50 315.54 L291.00 315.23 L291.50 314.92 L292.00 314.60 L292.50 314.27 L293.00 313.94 L293.50 313.60 L294.00 313.25 L294.50 312.89 L295.00 312.53 L295.50 312.16 L296.00 311.79 L296.50 311.40 L297.00 311.01 L297.50 310.61 L298.00 310.20 L298.50 309.78 L299.00 309.35 L299.50 308.92 L300.00 308.47 L300.50 308.02 L301.00 307.55 L301.50 307.08 L302.00 306.59 L302.50 306.09 L303.00 305.59 L303.50 305.07 L304.00 304.54 L304.50 304.00 L305.00 303.44 L305.50 302.88 L306.00 302.30 L306.50 301.71 L307.00 301.10 L307.50 300.48 L308.00 299.85 L308.50 299.20 L309.00 298.54 L309.50 297.86 L310.00 297.16 L310.50 296.45 L311.00 295.72 L311.50 294.98 L312.00 294.22 L312.50 293.44 L313.00 292.64 L313.50 291.82 L314.00 290.99 L314.50 290.13 L315.00 289.25 L315.50 288.36 L316.00 287.44 L316.50 286.50 L317.00 285.53 L317.50 284.55 L318.00 283.54 L318.50 282.50 L319.00 281.44 L319.50 280.36 L320.00 279.25 L320.50 278.12 L321.00 276.95 L321.50 275.76 L322.00 274.55 L322.50 273.30 L323.00 272.02 L323.50 270.72 L324.00 269.38 L324.50 268.02 L325.00 266.62 L325.50 265.19 L326.00 263.73 L326.50 262.24 L327.00 260.71 L327.50 259.15 L328.00 257.56 L328.50 255.93 L329.00 254.27 L329.50 252.58 L330.00 250.85 L330.50 249.09 L331.00 247.30 L331.50 245.47 L332.00 243.60 L332.50 241.71 L333.00 239.78 L333.50 237.82 L334.00 235.83 L334.50 233.81 L335.00 231.77 L335.50 229.69 L336.00 227.59 L336.50 225.46 L337.00 223.31 L337.50 221.15 L338.00 218.96 L338.50 216.76 L339.00 214.54 L339.50 212.31 L340.00 210.08 L340.50 207.84 L341.00 205.61 L341.50 203.38 L342.00 201.15 L342.50 198.94 L343.00 196.74 L343.50 194.57 L344.00 192.42 L344.50 190.30 L344.60 189.50 C344.67 189.25 344.80 188.79 344.90 188.80 C345.10 188.82 345.34 190.49 345.50 192.00 C345.87 195.55 345.78 203.24 345.90 210.00 C346.06 218.73 346.14 228.81 346.30 240.00 C346.50 254.21 346.75 288.40 347.00 288.40 C347.13 288.40 347.18 280.08 347.40 276.00 C347.62 272.02 347.82 267.01 348.30 264.20 C348.57 262.60 348.87 261.63 349.30 260.50 C349.69 259.48 350.07 258.68 350.70 257.70 C351.50 256.44 352.57 254.68 353.90 253.70 C355.23 252.71 356.94 252.12 358.70 251.80 C360.67 251.44 363.04 251.88 365.20 251.90 C367.34 251.92 369.62 252.10 371.60 251.90 C373.35 251.72 375.09 251.35 376.50 250.90 C377.64 250.54 378.62 250.07 379.50 249.60 C380.25 249.20 380.93 248.64 381.50 248.30 C381.92 248.05 382.33 247.56 382.60 247.70 C383.10 247.96 382.97 249.99 383.10 252.00 C383.40 256.62 383.30 267.62 383.40 275.00 C383.50 281.85 383.43 294.79 383.70 294.80 C383.85 294.81 383.88 290.69 384.30 289.00 C384.65 287.60 385.04 286.34 385.80 285.30 C386.55 284.27 387.58 283.27 388.80 282.80 C390.16 282.28 391.99 282.56 393.70 282.60 C395.60 282.64 397.53 282.92 399.70 283.10 C402.29 283.31 405.47 283.74 408.20 283.80 C410.72 283.85 413.20 283.85 415.50 283.50 C417.62 283.18 419.52 282.60 421.50 281.90 C423.55 281.18 425.74 280.29 427.60 279.20 C429.36 278.17 430.83 276.76 432.40 275.60 C433.89 274.50 435.31 273.29 436.80 272.40 C438.18 271.58 439.82 270.41 441.00 270.40 C441.85 270.39 442.62 270.84 443.20 271.40 C443.86 272.04 444.11 273.14 444.60 274.20 C445.22 275.54 446.07 277.11 446.60 278.80 C447.21 280.73 447.52 283.03 447.90 285.20 C448.29 287.43 448.64 289.87 448.90 292.00 C449.13 293.87 449.26 294.91 449.40 297.30 C449.69 302.30 449.71 320.50 449.90 320.50 C450.08 320.50 450.01 300.05 450.50 300.00 C450.69 299.98 450.97 301.74 451.20 303.00 C451.58 305.10 451.68 308.58 452.30 311.50 C452.99 314.73 454.37 318.94 455.30 321.50 C455.90 323.15 456.33 324.63 457.00 325.50 C457.43 326.06 457.93 326.63 458.40 326.60 C458.93 326.57 459.52 325.66 460.00 325.00 C460.58 324.19 460.95 323.03 461.50 322.00 C462.10 320.87 462.83 319.67 463.50 318.50" fill="none" stroke="#f0f" stroke-width="1.9" stroke-linejoin="round" clip-path="url(#clipd)"/>
<line x1="126.9" y1="26.30" x2="143.7" y2="26.30" stroke="#000" stroke-width="1.6"/>
<text x="146.40" y="29.20" font-size="14.80" text-anchor="start" fill="#000" textLength="38.50" lengthAdjust="spacingAndGlyphs" stroke="#000" stroke-width="0.30">0.1 μm</text>
<line x1="126.9" y1="43.10" x2="143.7" y2="43.10" stroke="#f00" stroke-width="1.6"/>
<text x="146.40" y="46.00" font-size="14.80" text-anchor="start" fill="#000" textLength="28.30" lengthAdjust="spacingAndGlyphs" stroke="#000" stroke-width="0.30">1 μm</text>
<line x1="186.9" y1="25.90" x2="203.9" y2="25.90" stroke="#00f" stroke-width="1.6"/>
<text x="206.30" y="28.80" font-size="14.80" text-anchor="start" fill="#000" textLength="29.00" lengthAdjust="spacingAndGlyphs" stroke="#000" stroke-width="0.30">5 μm</text>
<line x1="186.9" y1="42.80" x2="203.9" y2="42.80" stroke="#f0f" stroke-width="1.6"/>
<text x="206.30" y="45.70" font-size="14.80" text-anchor="start" fill="#000" textLength="29.00" lengthAdjust="spacingAndGlyphs" stroke="#000" stroke-width="0.30">8 μm</text>
<line x1="186.9" y1="59.60" x2="203.9" y2="59.60" stroke="#008000" stroke-width="1.6"/>
<text x="206.30" y="62.50" font-size="14.80" text-anchor="start" fill="#000" textLength="35.00" lengthAdjust="spacingAndGlyphs" stroke="#000" stroke-width="0.30">15 μm</text>
<line x1="186.9" y1="76.50" x2="203.9" y2="76.50" stroke="#000080" stroke-width="1.6"/>
<text x="206.30" y="79.40" font-size="14.80" text-anchor="start" fill="#000" textLength="35.00" lengthAdjust="spacingAndGlyphs" stroke="#000" stroke-width="0.30">24 μm</text>
<line x1="277.8" y1="26.30" x2="294.9" y2="26.30" stroke="#000" stroke-width="1.6"/>
<text x="297.60" y="29.20" font-size="14.80" text-anchor="start" fill="#000" textLength="28.30" lengthAdjust="spacingAndGlyphs" stroke="#000" stroke-width="0.30">1 μm</text>
<line x1="277.8" y1="43.00" x2="294.9" y2="43.00" stroke="#f00" stroke-width="1.6"/>
<text x="297.60" y="45.90" font-size="14.80" text-anchor="start" fill="#000" textLength="35.00" lengthAdjust="spacingAndGlyphs" stroke="#000" stroke-width="0.30">12 μm</text>
<line x1="277.8" y1="59.90" x2="294.9" y2="59.90" stroke="#00f" stroke-width="1.6"/>
<text x="297.60" y="62.80" font-size="14.80" text-anchor="start" fill="#000" textLength="35.00" lengthAdjust="spacingAndGlyphs" stroke="#000" stroke-width="0.30">24 μm</text>
<line x1="57.9" y1="195.20" x2="75.0" y2="195.20" stroke="#000" stroke-width="1.6"/>
<text x="80.80" y="198.10" font-size="14.80" text-anchor="start" fill="#000" textLength="29.20" lengthAdjust="spacingAndGlyphs" stroke="#000" stroke-width="0.30">0 μm</text>
<line x1="57.9" y1="229.20" x2="75.0" y2="229.20" stroke="#00f" stroke-width="1.6"/>
<text x="80.80" y="232.10" font-size="14.80" text-anchor="start" fill="#000" textLength="29.20" lengthAdjust="spacingAndGlyphs" stroke="#000" stroke-width="0.30">2 μm</text>
<line x1="57.9" y1="246.00" x2="75.0" y2="246.00" stroke="#f0f" stroke-width="1.6"/>
<text x="80.80" y="248.90" font-size="14.80" text-anchor="start" fill="#000" textLength="29.20" lengthAdjust="spacingAndGlyphs" stroke="#000" stroke-width="0.30">5 μm</text>
<line x1="57.9" y1="212.00" x2="75.0" y2="212.00" stroke="#f00" stroke-width="1.6"/>
<text x="79.00" y="214.90" font-size="14.80" text-anchor="start" fill="#000" textLength="28.30" lengthAdjust="spacingAndGlyphs" stroke="#000" stroke-width="0.30">1 μm</text>
<line x1="278.7" y1="195.60" x2="295.6" y2="195.60" stroke="#000" stroke-width="1.6"/>
<text x="299.00" y="198.50" font-size="14.80" text-anchor="start" fill="#000" textLength="28.60" lengthAdjust="spacingAndGlyphs" stroke="#000" stroke-width="0.30">0 μm</text>
<line x1="278.7" y1="212.20" x2="295.6" y2="212.20" stroke="#f00" stroke-width="1.6"/>
<text x="299.00" y="215.10" font-size="14.80" text-anchor="start" fill="#000" textLength="27.60" lengthAdjust="spacingAndGlyphs" stroke="#000" stroke-width="0.30">1 μm</text>
<line x1="278.7" y1="229.60" x2="295.6" y2="229.60" stroke="#00f" stroke-width="1.6"/>
<text x="299.00" y="232.50" font-size="14.80" text-anchor="start" fill="#000" textLength="28.60" lengthAdjust="spacingAndGlyphs" stroke="#000" stroke-width="0.30">2 μm</text>
<line x1="278.7" y1="246.20" x2="295.6" y2="246.20" stroke="#f0f" stroke-width="1.6"/>
<text x="299.00" y="249.10" font-size="14.80" text-anchor="start" fill="#000" textLength="28.60" lengthAdjust="spacingAndGlyphs" stroke="#000" stroke-width="0.30">5 μm</text>
<text x="58.80" y="125.80" font-size="18.50" text-anchor="start" fill="#000" textLength="20.50" lengthAdjust="spacingAndGlyphs" stroke="#000" stroke-width="0.30">(a)</text>
<text x="280.00" y="126.00" font-size="18.50" text-anchor="start" fill="#000" textLength="21.00" lengthAdjust="spacingAndGlyphs" stroke="#000" stroke-width="0.30">(b)</text>
<text x="58.80" y="291.30" font-size="18.50" text-anchor="start" fill="#000" textLength="20.00" lengthAdjust="spacingAndGlyphs" stroke="#000" stroke-width="0.30">(c)</text>
<text x="280.20" y="291.00" font-size="18.50" text-anchor="start" fill="#000" textLength="20.70" lengthAdjust="spacingAndGlyphs" stroke="#000" stroke-width="0.30">(d)</text>
<text transform="translate(16.2,327.3) rotate(-90)" font-size="24" textLength="307.5" lengthAdjust="spacingAndGlyphs" stroke="#000" stroke-width="0.35">Normalized Transmission magnitude</text>
<text x="184.50" y="367.50" font-size="23.60" text-anchor="start" fill="#000" textLength="139.00" lengthAdjust="spacingAndGlyphs" stroke="#000" stroke-width="0.35">Frequency (THz)</text>
<ellipse cx="339.3" cy="38.4" rx="6.5" ry="19.9" fill="none" stroke="#00b050" stroke-width="2.4"/>
<line x1="346.2" y1="38.9" x2="467.6" y2="2.7" stroke="#00b050" stroke-width="2.4"/>
<line x1="346.2" y1="39.3" x2="467.8" y2="114.3" stroke="#00b050" stroke-width="2.4"/>
<rect x="470.3" y="1.1" width="146.5" height="114" fill="#fff" stroke="#00b050" stroke-width="2.3"/>
<path d="M497.7 15.4 H595.4 V95.2 H497.7 Z" fill="none" stroke="#333" stroke-width="0.9"/>
<line x1="497.70" y1="95.20" x2="497.70" y2="92.70" stroke="#333" stroke-width="0.8"/>
<line x1="509.91" y1="95.20" x2="509.91" y2="93.70" stroke="#333" stroke-width="0.8"/>
<line x1="522.12" y1="95.20" x2="522.12" y2="92.70" stroke="#333" stroke-width="0.8"/>
<line x1="534.34" y1="95.20" x2="534.34" y2="93.70" stroke="#333" stroke-width="0.8"/>
<line x1="546.55" y1="95.20" x2="546.55" y2="92.70" stroke="#333" stroke-width="0.8"/>
<line x1="558.76" y1="95.20" x2="558.76" y2="93.70" stroke="#333" stroke-width="0.8"/>
<line x1="570.98" y1="95.20" x2="570.98" y2="92.70" stroke="#333" stroke-width="0.8"/>
<line x1="583.19" y1="95.20" x2="583.19" y2="93.70" stroke="#333" stroke-width="0.8"/>
<line x1="595.40" y1="95.20" x2="595.40" y2="92.70" stroke="#333" stroke-width="0.8"/>
<line x1="497.70" y1="95.20" x2="500.20" y2="95.20" stroke="#333" stroke-width="0.8"/>
<line x1="497.70" y1="82.75" x2="499.20" y2="82.75" stroke="#333" stroke-width="0.8"/>
<line x1="497.70" y1="70.30" x2="500.20" y2="70.30" stroke="#333" stroke-width="0.8"/>
<line x1="497.70" y1="57.85" x2="499.20" y2="57.85" stroke="#333" stroke-width="0.8"/>
<line x1="497.70" y1="45.40" x2="500.20" y2="45.40" stroke="#333" stroke-width="0.8"/>
<line x1="497.70" y1="32.95" x2="499.20" y2="32.95" stroke="#333" stroke-width="0.8"/>
<line x1="497.70" y1="20.50" x2="500.20" y2="20.50" stroke="#333" stroke-width="0.8"/>
<text x="496.40" y="97.80" font-size="7.60" text-anchor="end" fill="#000" textLength="10.20" lengthAdjust="spacingAndGlyphs" stroke="#000" stroke-width="0.12">0.6</text>
<text x="496.40" y="72.90" font-size="7.60" text-anchor="end" fill="#000" textLength="10.20" lengthAdjust="spacingAndGlyphs" stroke="#000" stroke-width="0.12">0.7</text>
<text x="496.40" y="48.00" font-size="7.60" text-anchor="end" fill="#000" textLength="10.20" lengthAdjust="spacingAndGlyphs" stroke="#000" stroke-width="0.12">0.8</text>
<text x="496.40" y="23.10" font-size="7.60" text-anchor="end" fill="#000" textLength="10.20" lengthAdjust="spacingAndGlyphs" stroke="#000" stroke-width="0.12">0.9</text>
<text x="497.70" y="103.50" font-size="7.60" text-anchor="middle" fill="#000" textLength="13.40" lengthAdjust="spacingAndGlyphs" stroke="#000" stroke-width="0.12">0.96</text>
<text x="522.12" y="103.50" font-size="7.60" text-anchor="middle" fill="#000" textLength="13.40" lengthAdjust="spacingAndGlyphs" stroke="#000" stroke-width="0.12">0.98</text>
<text x="546.55" y="103.50" font-size="7.60" text-anchor="middle" fill="#000" textLength="13.40" lengthAdjust="spacingAndGlyphs" stroke="#000" stroke-width="0.12">1.00</text>
<text x="570.98" y="103.50" font-size="7.60" text-anchor="middle" fill="#000" textLength="13.40" lengthAdjust="spacingAndGlyphs" stroke="#000" stroke-width="0.12">1.02</text>
<text x="595.40" y="103.50" font-size="7.60" text-anchor="middle" fill="#000" textLength="13.40" lengthAdjust="spacingAndGlyphs" stroke="#000" stroke-width="0.12">1.04</text>
<text x="522.00" y="110.80" font-size="7.40" text-anchor="start" fill="#000" textLength="49.00" lengthAdjust="spacingAndGlyphs" stroke="#000" stroke-width="0.15">Frequency (THz)</text>
<text transform="translate(483.9,112.6) rotate(-90)" font-size="7.4" textLength="105.5" lengthAdjust="spacingAndGlyphs" stroke="#000" stroke-width="0.15">Normalized Transmission magnitude</text>
<path d="M560.92 95.25 L561.26 94.70 L561.60 94.15 L561.93 93.60 L562.26 93.06 L562.59 92.52 L562.92 91.99 L563.24 91.46 L563.56 90.94 L563.88 90.42 L564.19 89.90 L564.50 89.38 L564.80 88.87 L565.11 88.36 L565.41 87.85 L565.71 87.35 L566.00 86.85 L566.30 86.35 L566.59 85.85 L566.88 85.35 L567.16 84.85 L567.45 84.36 L567.73 83.87 L568.01 83.37 L568.29 82.88 L568.56 82.39 L568.84 81.90 L569.11 81.40 L569.38 80.91 L569.65 80.42 L569.91 79.92 L570.18 79.43 L570.44 78.93 L570.71 78.44 L570.97 77.94 L571.23 77.44 L571.49 76.94 L571.74 76.43 L572.00 75.93 L572.26 75.42 L572.51 74.91 L572.76 74.40 L573.02 73.88 L573.27 73.36 L573.52 72.84 L573.77 72.31 L574.03 71.78 L574.28 71.25 L574.53 70.71 L574.78 70.17 L575.03 69.62 L575.28 69.07 L575.53 68.51 L575.78 67.95 L576.03 67.38 L576.28 66.81 L576.53 66.23 L576.78 65.64 L577.03 65.05 L577.28 64.45 L577.53 63.85 L577.79 63.24 L578.04 62.62 L578.29 62.00 L578.55 61.37 L578.81 60.73 L579.06 60.09 L579.32 59.46 L579.58 58.83 L579.85 58.22 L580.11 57.62 L580.38 57.04 L580.65 56.49 L580.93 55.97 L581.21 55.48 L581.49 55.04 L581.78 54.63 L582.07 54.27 L582.37 53.97 L582.67 53.72 L582.98 53.53 L583.29 53.41 L583.61 53.35 L583.94 53.37 L584.27 53.47 L584.60 53.63 L584.93 53.85 L585.26 54.12 L585.59 54.45 L585.90 54.82 L586.21 55.23 L586.50 55.68 L586.77 56.15 L587.03 56.64 L587.27 57.16 L587.50 57.70 L587.71 58.26 L587.91 58.84 L588.09 59.44 L588.27 60.05 L588.43 60.67 L588.58 61.30 L588.72 61.95 L588.85 62.60 L588.98 63.26 L589.09 63.93 L589.20 64.60 L589.31 65.27 L589.41 65.94 L589.50 66.61 L589.59 67.28 L589.68 67.94 L589.76 68.60 L589.84 69.25 L589.92 69.89 L590.01 70.52 L590.09 71.14 L590.16 71.75 L590.24 72.36 L590.32 72.96 L590.40 73.55 L590.47 74.14 L590.55 74.72 L590.62 75.29 L590.70 75.86 L590.77 76.42 L590.84 76.98 L590.91 77.54 L590.98 78.09 L591.05 78.64 L591.11 79.19 L591.18 79.74 L591.24 80.28 L591.30 80.83 L591.37 81.37 L591.43 81.92 L591.49 82.46 L591.54 83.00 L591.60 83.55 L591.65 84.10 L591.71 84.65 L591.76 85.20 L591.81 85.75 L591.86 86.31 L591.91 86.88 L591.95 87.44 L592.00 88.01 L592.04 88.59 L592.08 89.17 L592.12 89.76 L592.16 90.36 L592.19 90.96 L592.23 91.57 L592.26 92.19 L592.29 92.82 L592.32 93.45 L592.34 94.10 L592.37 94.75 L592.39 95.42 L592.41 96.09" fill="none" stroke="#000" stroke-width="1.30" stroke-linejoin="round" stroke-linecap="round" clip-path="url(#clipi)"/>
<path d="M537.26 95.42 L537.78 94.72 L538.29 94.04 L538.80 93.35 L539.31 92.68 L539.82 92.02 L540.33 91.36 L540.83 90.70 L541.33 90.06 L541.83 89.42 L542.32 88.79 L542.82 88.16 L543.31 87.54 L543.80 86.92 L544.29 86.30 L544.78 85.70 L545.26 85.09 L545.74 84.49 L546.22 83.89 L546.70 83.30 L547.18 82.70 L547.65 82.11 L548.13 81.52 L548.60 80.94 L549.07 80.35 L549.53 79.77 L550.00 79.19 L550.46 78.60 L550.93 78.02 L551.39 77.44 L551.85 76.85 L552.31 76.27 L552.76 75.68 L553.22 75.10 L553.67 74.51 L554.12 73.92 L554.57 73.32 L555.02 72.73 L555.47 72.13 L555.91 71.52 L556.36 70.92 L556.80 70.31 L557.24 69.69 L557.68 69.07 L558.12 68.45 L558.56 67.82 L559.00 67.18 L559.44 66.54 L559.87 65.89 L560.30 65.24 L560.74 64.58 L561.17 63.91 L561.60 63.23 L562.03 62.55 L562.46 61.86 L562.88 61.16 L563.31 60.45 L563.74 59.73 L564.16 59.00 L564.59 58.27 L565.01 57.52 L565.43 56.76 L565.85 55.99 L566.27 55.21 L566.69 54.42 L567.12 53.63 L567.54 52.84 L567.96 52.05 L568.39 51.27 L568.83 50.50 L569.26 49.75 L569.70 49.02 L570.15 48.30 L570.61 47.62 L571.07 46.97 L571.54 46.35 L572.03 45.77 L572.52 45.23 L573.02 44.73 L573.53 44.29 L574.06 43.90 L574.60 43.57 L575.15 43.30 L575.72 43.09 L576.30 42.96 L576.89 42.90 L577.48 42.93 L578.07 43.04 L578.65 43.24 L579.23 43.50 L579.80 43.83 L580.35 44.23 L580.89 44.69 L581.41 45.20 L581.91 45.75 L582.38 46.35 L582.83 46.99 L583.24 47.66 L583.63 48.35 L583.97 49.07 L584.29 49.81 L584.57 50.57 L584.83 51.35 L585.06 52.14 L585.27 52.94 L585.46 53.76 L585.63 54.58 L585.79 55.41 L585.93 56.24 L586.06 57.08 L586.19 57.92 L586.30 58.75 L586.41 59.58 L586.53 60.41 L586.64 61.22 L586.75 62.04 L586.86 62.84 L586.97 63.64 L587.08 64.43 L587.20 65.22 L587.31 66.00 L587.42 66.78 L587.53 67.55 L587.64 68.32 L587.75 69.09 L587.85 69.85 L587.96 70.61 L588.07 71.37 L588.17 72.12 L588.28 72.87 L588.38 73.62 L588.49 74.37 L588.59 75.12 L588.69 75.87 L588.78 76.61 L588.88 77.36 L588.98 78.11 L589.07 78.85 L589.16 79.60 L589.25 80.35 L589.34 81.10 L589.43 81.86 L589.51 82.61 L589.60 83.37 L589.68 84.13 L589.75 84.89 L589.83 85.66 L589.90 86.43 L589.98 87.21 L590.04 87.99 L590.11 88.77 L590.17 89.56 L590.23 90.36 L590.29 91.16 L590.34 91.97 L590.40 92.78 L590.44 93.60 L590.49 94.43 L590.53 95.27 L590.57 96.11" fill="none" stroke="#f00" stroke-width="1.30" stroke-linejoin="round" stroke-linecap="round" clip-path="url(#clipi)"/>
<path d="M497.58 95.39 L498.61 94.64 L499.63 93.89 L500.64 93.14 L501.64 92.39 L502.64 91.64 L503.62 90.88 L504.60 90.13 L505.57 89.37 L506.53 88.61 L507.49 87.84 L508.44 87.07 L509.38 86.31 L510.31 85.53 L511.24 84.76 L512.16 83.98 L513.08 83.20 L513.98 82.42 L514.89 81.63 L515.78 80.84 L516.67 80.05 L517.55 79.25 L518.43 78.45 L519.30 77.65 L520.16 76.84 L521.02 76.03 L521.87 75.21 L522.72 74.40 L523.56 73.57 L524.40 72.75 L525.24 71.92 L526.06 71.08 L526.89 70.24 L527.70 69.40 L528.52 68.55 L529.33 67.70 L530.13 66.84 L530.93 65.98 L531.73 65.11 L532.52 64.24 L533.31 63.36 L534.10 62.48 L534.88 61.60 L535.66 60.70 L536.43 59.81 L537.20 58.91 L537.97 58.00 L538.74 57.08 L539.50 56.16 L540.26 55.24 L541.02 54.31 L541.77 53.37 L542.53 52.43 L543.28 51.48 L544.02 50.53 L544.77 49.57 L545.51 48.60 L546.26 47.62 L547.00 46.64 L547.74 45.66 L548.47 44.66 L549.21 43.66 L549.95 42.66 L550.68 41.64 L551.41 40.62 L552.15 39.60 L552.88 38.56 L553.61 37.52 L554.34 36.47 L555.07 35.41 L555.80 34.35 L556.54 33.30 L557.28 32.24 L558.03 31.20 L558.78 30.17 L559.55 29.16 L560.33 28.17 L561.13 27.21 L561.94 26.28 L562.77 25.38 L563.62 24.52 L564.49 23.70 L565.38 22.93 L566.30 22.22 L567.25 21.55 L568.23 20.95 L569.23 20.41 L570.26 19.95 L571.29 19.59 L572.33 19.35 L573.35 19.25 L574.35 19.30 L575.32 19.52 L576.26 19.88 L577.16 20.38 L578.02 21.00 L578.83 21.72 L579.60 22.52 L580.32 23.40 L580.98 24.34 L581.59 25.32 L582.15 26.35 L582.66 27.41 L583.13 28.52 L583.56 29.65 L583.94 30.82 L584.29 32.01 L584.61 33.22 L584.90 34.46 L585.16 35.71 L585.40 36.98 L585.62 38.26 L585.83 39.54 L586.01 40.83 L586.19 42.12 L586.37 43.41 L586.53 44.70 L586.70 45.97 L586.87 47.24 L587.04 48.49 L587.22 49.73 L587.39 50.96 L587.57 52.18 L587.76 53.39 L587.94 54.59 L588.12 55.78 L588.31 56.97 L588.49 58.14 L588.68 59.31 L588.87 60.48 L589.05 61.64 L589.23 62.79 L589.42 63.95 L589.60 65.09 L589.78 66.24 L589.95 67.39 L590.13 68.53 L590.30 69.68 L590.46 70.82 L590.63 71.97 L590.78 73.12 L590.94 74.27 L591.09 75.42 L591.23 76.58 L591.37 77.74 L591.50 78.91 L591.62 80.08 L591.74 81.27 L591.85 82.45 L591.95 83.65 L592.05 84.86 L592.14 86.07 L592.21 87.30 L592.28 88.53 L592.34 89.78 L592.39 91.04 L592.43 92.31 L592.46 93.60 L592.48 94.90 L592.48 96.22" fill="none" stroke="#00f" stroke-width="1.30" stroke-linejoin="round" stroke-linecap="round" clip-path="url(#clipi)"/>
<line x1="501.8" y1="23.80" x2="510.2" y2="23.80" stroke="#222" stroke-width="1.3"/>
<text x="511.80" y="25.80" font-size="7.60" text-anchor="start" fill="#000" textLength="15.20" lengthAdjust="spacingAndGlyphs" stroke="#000" stroke-width="0.12">1 μm</text>
<line x1="501.8" y1="32.60" x2="510.2" y2="32.60" stroke="#f22" stroke-width="1.3"/>
<text x="511.80" y="34.60" font-size="7.60" text-anchor="start" fill="#000" textLength="18.80" lengthAdjust="spacingAndGlyphs" stroke="#000" stroke-width="0.12">12 μm</text>
<line x1="501.8" y1="41.30" x2="510.2" y2="41.30" stroke="#22f" stroke-width="1.3"/>
<text x="511.80" y="43.30" font-size="7.60" text-anchor="start" fill="#000" textLength="18.80" lengthAdjust="spacingAndGlyphs" stroke="#000" stroke-width="0.12">24 μm</text>
<rect x="179.8" y="215.0" width="54.0" height="47.0" fill="#eeee9f"/>
<rect x="193.1" y="226.0" width="8.2" height="24.5" fill="#e6e7ef"/>
<rect x="201.4" y="226.0" width="28.6" height="24.5" fill="#ffff00" stroke="#8a8a60" stroke-width="0.6"/>
<path d="M191.4 230.4 L194.6 227.6 L194.6 229.2 L199.0 229.2 L199.0 227.6 L202.2 230.4 L199.0 233.2 L199.0 231.6 L194.6 231.6 L194.6 233.2 Z" fill="#08aeea"/>
<line x1="195.2" y1="230.4" x2="198.4" y2="230.4" stroke="#fff" stroke-width="0.6" stroke-dasharray="0.8 0.6"/>
<path d="M203.0 212.8 C203.2 217.5 201.5 220.2 199.0 222.0 C197.8 223.0 197.0 224.2 196.6 226.0" fill="none" stroke="#08aeea" stroke-width="1.5"/>
<path d="M194.0 222.8 L196.6 226.6 L199.3 223.4" fill="none" stroke="#08aeea" stroke-width="1.5" stroke-linejoin="round"/>
<line x1="182.7" y1="259.5" x2="182.7" y2="249.5" stroke="#c0504d" stroke-width="1.8"/>
<path d="M182.70 246.60 L184.86 250.20 L180.54 250.20 Z" fill="#c0504d"/>
<line x1="181.8" y1="259.1" x2="196.0" y2="259.1" stroke="#c0504d" stroke-width="1.8"/>
<path d="M199.20 259.10 L195.60 261.26 L195.60 256.94 Z" fill="#c0504d"/>
<text x="179.9" y="241.6" font-size="12" font-weight="bold" fill="#f01818" stroke="#f01818" stroke-width="0.35">y</text>
<text x="201.2" y="261.3" font-size="12" font-weight="bold" fill="#f01818" stroke="#f01818" stroke-width="0.35">x</text>
<text x="188.30" y="199.40" font-size="9.10" text-anchor="start" fill="#111" textLength="42.60" lengthAdjust="spacingAndGlyphs" stroke="#111" stroke-width="0.12">Shift along</text>
<text x="195.0" y="211.1" font-size="9.1" fill="#111" stroke="#111" stroke-width="0.12" textLength="23.2" lengthAdjust="spacingAndGlyphs"><tspan font-style="italic">x</tspan>-axis</text>
<rect x="393.8" y="217.0" width="52.6" height="44.4" fill="#eeee9f"/>
<rect x="406.5" y="243.2" width="27.8" height="7.8" fill="#e6e7ef"/>
<rect x="406.5" y="220.0" width="27.8" height="23.2" fill="#ffff00" stroke="#8a8a60" stroke-width="0.6"/>
<path d="M429.7 242.5 L432.5 245.5 L430.9 245.5 L430.9 249.9 L432.5 249.9 L429.7 252.9 L426.9 249.9 L428.5 249.9 L428.5 245.5 L426.9 245.5 Z" fill="#08aeea"/>
<line x1="429.7" y1="246.1" x2="429.7" y2="249.3" stroke="#fff" stroke-width="0.6" stroke-dasharray="0.8 0.6"/>
<path d="M443.6 208.0 C443.4 222 442.5 234 440.5 241.5 C439.5 244.5 437.5 246.3 435.0 246.8" fill="none" stroke="#08aeea" stroke-width="1.5"/>
<path d="M437.8 243.8 L434.4 246.8 L438.0 249.0" fill="none" stroke="#08aeea" stroke-width="1.5" stroke-linejoin="round"/>
<line x1="398.1" y1="259.2" x2="398.1" y2="247.5" stroke="#c0504d" stroke-width="1.8"/>
<path d="M398.10 244.60 L400.26 248.20 L395.94 248.20 Z" fill="#c0504d"/>
<line x1="397.2" y1="258.7" x2="413.6" y2="258.7" stroke="#c0504d" stroke-width="1.8"/>
<path d="M416.80 258.70 L413.20 260.86 L413.20 256.54 Z" fill="#c0504d"/>
<text x="394.6" y="240.8" font-size="12" font-weight="bold" fill="#f01818" stroke="#f01818" stroke-width="0.35">y</text>
<text x="417.7" y="260.7" font-size="12" font-weight="bold" fill="#f01818" stroke="#f01818" stroke-width="0.35">x</text>
<text x="401.20" y="199.00" font-size="9.10" text-anchor="start" fill="#111" textLength="44.80" lengthAdjust="spacingAndGlyphs" stroke="#111" stroke-width="0.12">Shift along</text>
<text x="407.80" y="210.90" font-size="9.10" text-anchor="start" fill="#111" textLength="24.50" lengthAdjust="spacingAndGlyphs" stroke="#111" stroke-width="0.12">y-axis</text>
</svg></body></html>
